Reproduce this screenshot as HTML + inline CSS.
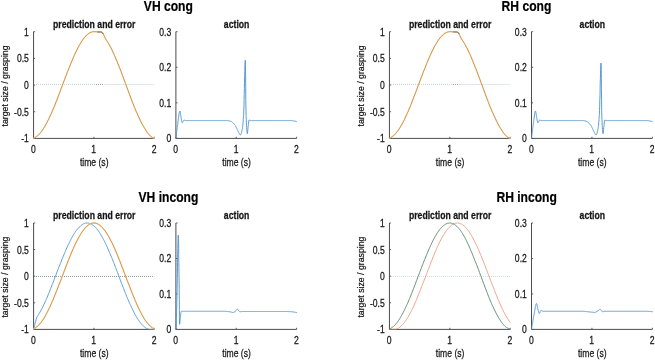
<!DOCTYPE html>
<html><head><meta charset="utf-8"><title>figure</title>
<style>
html,body{margin:0;padding:0;background:#fff;}
body{width:655px;height:360px;overflow:hidden;}
svg{display:block;font-family:"Liberation Sans",Arial,Helvetica,sans-serif;}
</style></head><body>
<svg width="655" height="360" viewBox="0 0 655 360">
<rect width="655" height="360" fill="#fff"/>
<path d="M33.55,31.70 V138.40 H154.25" fill="none" stroke="#4d4d4d" stroke-width="1"/>
<path d="M33.55,138.40 v-1.6" stroke="#4d4d4d" stroke-width="0.9"/>
<text transform="translate(33.35,152.60) scale(0.835,1)" text-anchor="middle" font-size="10.3" font-weight="normal" fill="#161616" stroke="#161616" stroke-width="0.25">0</text>
<path d="M93.90,138.40 v-1.6" stroke="#4d4d4d" stroke-width="0.9"/>
<text transform="translate(93.70,152.60) scale(0.835,1)" text-anchor="middle" font-size="10.3" font-weight="normal" fill="#161616" stroke="#161616" stroke-width="0.25">1</text>
<path d="M154.25,138.40 v-1.6" stroke="#4d4d4d" stroke-width="0.9"/>
<text transform="translate(154.05,152.60) scale(0.835,1)" text-anchor="middle" font-size="10.3" font-weight="normal" fill="#161616" stroke="#161616" stroke-width="0.25">2</text>
<path d="M33.55,138.40 h1.6" stroke="#4d4d4d" stroke-width="0.9"/>
<text transform="translate(28.85,142.35) scale(0.835,1)" text-anchor="end" font-size="10.3" font-weight="normal" fill="#161616" stroke="#161616" stroke-width="0.25">-1</text>
<path d="M33.55,111.73 h1.6" stroke="#4d4d4d" stroke-width="0.9"/>
<text transform="translate(28.85,115.68) scale(0.835,1)" text-anchor="end" font-size="10.3" font-weight="normal" fill="#161616" stroke="#161616" stroke-width="0.25">-0.5</text>
<path d="M33.55,85.05 h1.6" stroke="#4d4d4d" stroke-width="0.9"/>
<text transform="translate(28.85,89.00) scale(0.835,1)" text-anchor="end" font-size="10.3" font-weight="normal" fill="#161616" stroke="#161616" stroke-width="0.25">0</text>
<path d="M33.55,58.38 h1.6" stroke="#4d4d4d" stroke-width="0.9"/>
<text transform="translate(28.85,62.33) scale(0.835,1)" text-anchor="end" font-size="10.3" font-weight="normal" fill="#161616" stroke="#161616" stroke-width="0.25">0.5</text>
<path d="M33.55,31.70 h1.6" stroke="#4d4d4d" stroke-width="0.9"/>
<text transform="translate(28.85,35.65) scale(0.835,1)" text-anchor="end" font-size="10.3" font-weight="normal" fill="#161616" stroke="#161616" stroke-width="0.25">1</text>
<text transform="translate(94.20,166.20) scale(0.835,1)" text-anchor="middle" font-size="10.3" font-weight="normal" fill="#161616" stroke="#161616" stroke-width="0.25">time (s)</text>
<path d="M175.90,31.70 V138.40 H296.60" fill="none" stroke="#4d4d4d" stroke-width="1"/>
<path d="M175.90,138.40 v-1.6" stroke="#4d4d4d" stroke-width="0.9"/>
<text transform="translate(175.70,152.60) scale(0.835,1)" text-anchor="middle" font-size="10.3" font-weight="normal" fill="#161616" stroke="#161616" stroke-width="0.25">0</text>
<path d="M236.25,138.40 v-1.6" stroke="#4d4d4d" stroke-width="0.9"/>
<text transform="translate(236.05,152.60) scale(0.835,1)" text-anchor="middle" font-size="10.3" font-weight="normal" fill="#161616" stroke="#161616" stroke-width="0.25">1</text>
<path d="M296.60,138.40 v-1.6" stroke="#4d4d4d" stroke-width="0.9"/>
<text transform="translate(296.40,152.60) scale(0.835,1)" text-anchor="middle" font-size="10.3" font-weight="normal" fill="#161616" stroke="#161616" stroke-width="0.25">2</text>
<path d="M175.90,138.40 h1.6" stroke="#4d4d4d" stroke-width="0.9"/>
<text transform="translate(171.20,142.35) scale(0.835,1)" text-anchor="end" font-size="10.3" font-weight="normal" fill="#161616" stroke="#161616" stroke-width="0.25">0</text>
<path d="M175.90,102.83 h1.6" stroke="#4d4d4d" stroke-width="0.9"/>
<text transform="translate(171.20,106.78) scale(0.835,1)" text-anchor="end" font-size="10.3" font-weight="normal" fill="#161616" stroke="#161616" stroke-width="0.25">0.1</text>
<path d="M175.90,67.27 h1.6" stroke="#4d4d4d" stroke-width="0.9"/>
<text transform="translate(171.20,71.22) scale(0.835,1)" text-anchor="end" font-size="10.3" font-weight="normal" fill="#161616" stroke="#161616" stroke-width="0.25">0.2</text>
<path d="M175.90,31.70 h1.6" stroke="#4d4d4d" stroke-width="0.9"/>
<text transform="translate(171.20,35.65) scale(0.835,1)" text-anchor="end" font-size="10.3" font-weight="normal" fill="#161616" stroke="#161616" stroke-width="0.25">0.3</text>
<text transform="translate(236.55,166.20) scale(0.835,1)" text-anchor="middle" font-size="10.3" font-weight="normal" fill="#161616" stroke="#161616" stroke-width="0.25">time (s)</text>
<path d="M36,84.5 H96" stroke="#bcd8df" stroke-width="1" stroke-dasharray="1 1"/>
<path d="M96,84.5 H104" stroke="#8fa3aa" stroke-width="1" stroke-dasharray="1 1"/>
<path d="M104,84.5 H154.25" stroke="#dcebed" stroke-width="1"/>
<path d="M33.5,138.0 L34.1,137.8 L34.6,137.6 L35.1,137.4 L35.6,137.1 L36.1,136.8 L36.6,136.4 L37.1,136.1 L37.6,135.7 L38.1,135.2 L38.6,134.7 L39.1,134.2 L39.6,133.7 L40.1,133.1 L40.6,132.5 L41.1,131.9 L41.6,131.3 L42.1,130.6 L42.6,129.9 L43.1,129.1 L43.6,128.3 L44.1,127.5 L44.6,126.7 L45.1,125.9 L45.6,125.0 L46.1,124.1 L46.6,123.2 L47.1,122.2 L47.6,121.2 L48.1,120.2 L48.6,119.2 L49.1,118.2 L49.6,117.1 L50.1,116.0 L50.6,114.9 L51.2,113.8 L51.7,112.6 L52.2,111.5 L52.7,110.3 L53.2,109.1 L53.7,107.9 L54.2,106.7 L54.7,105.5 L55.2,104.2 L55.7,103.0 L56.2,101.7 L56.7,100.4 L57.2,99.1 L57.7,97.8 L58.2,96.5 L58.7,95.2 L59.2,93.9 L59.7,92.5 L60.2,91.2 L60.7,89.9 L61.2,88.5 L61.7,87.2 L62.2,85.9 L62.7,84.5 L63.2,83.2 L63.7,81.8 L64.2,80.5 L64.7,79.2 L65.2,77.8 L65.7,76.5 L66.2,75.2 L66.7,73.9 L67.2,72.5 L67.7,71.2 L68.3,69.9 L68.8,68.7 L69.3,67.4 L69.8,66.1 L70.3,64.9 L70.8,63.6 L71.3,62.4 L71.8,61.2 L72.3,60.0 L72.8,58.8 L73.3,57.7 L73.8,56.5 L74.3,55.4 L74.8,54.3 L75.3,53.2 L75.8,52.1 L76.3,51.1 L76.8,50.1 L77.3,49.1 L77.8,48.1 L78.3,47.1 L78.8,46.2 L79.3,45.3 L79.8,44.4 L80.3,43.6 L80.8,42.7 L81.3,41.9 L81.8,41.1 L82.3,40.4 L82.8,39.7 L83.3,39.0 L83.8,38.3 L84.3,37.7 L84.8,37.1 L85.4,36.5 L85.9,36.0 L86.4,35.5 L86.9,35.0 L87.4,34.5 L87.9,34.1 L88.4,33.7 L88.9,33.4 L89.4,33.1 L89.9,32.8 L90.4,32.5 L90.9,32.3 L91.4,32.1 L91.9,32.0 L92.4,31.9 L92.9,31.8 L93.4,31.7 L93.9,31.7 L94.4,31.7 L94.9,31.7 L95.4,31.7 L95.9,31.8 L96.4,31.8 L96.9,31.8 L97.4,31.8 L97.9,31.8 L98.4,31.8 L98.9,31.9 L99.4,31.9 L99.9,31.9 L100.4,31.9 L100.9,31.9 L101.4,32.1 L101.9,32.3 L102.4,32.7 L103.0,33.6 L103.5,34.5 L104.0,35.5 L104.5,36.6 L105.0,37.7 L105.5,38.8 L106.0,39.5 L106.5,40.2 L107.0,41.0 L107.5,41.7 L108.0,42.6 L108.5,43.4 L109.0,44.3 L109.5,45.2 L110.0,46.1 L110.5,47.0 L111.0,48.0 L111.5,49.0 L112.0,50.0 L112.5,51.1 L113.0,52.2 L113.5,53.2 L114.0,54.3 L114.5,55.5 L115.0,56.6 L115.5,57.8 L116.0,59.0 L116.5,60.2 L117.0,61.4 L117.5,62.6 L118.0,63.9 L118.5,65.1 L119.0,66.4 L119.5,67.7 L120.1,69.0 L120.6,70.3 L121.1,71.6 L121.6,73.0 L122.1,74.3 L122.6,75.6 L123.1,77.0 L123.6,78.3 L124.1,79.7 L124.6,81.1 L125.1,82.4 L125.6,83.8 L126.1,85.1 L126.6,86.5 L127.1,87.9 L127.6,89.2 L128.1,90.6 L128.6,92.0 L129.1,93.3 L129.6,94.7 L130.1,96.0 L130.6,97.3 L131.1,98.7 L131.6,100.0 L132.1,101.3 L132.6,102.6 L133.1,103.9 L133.6,105.1 L134.1,106.4 L134.6,107.6 L135.1,108.8 L135.6,110.1 L136.1,111.3 L136.6,112.4 L137.2,113.6 L137.7,114.7 L138.2,115.9 L138.7,117.0 L139.2,118.0 L139.7,119.1 L140.2,120.1 L140.7,121.2 L141.2,122.1 L141.7,123.1 L142.2,124.1 L142.7,125.0 L143.2,125.9 L143.7,126.7 L144.2,127.6 L144.7,128.4 L145.2,129.2 L145.7,130.0 L146.2,130.8 L146.7,131.6 L147.2,132.3 L147.7,133.0 L148.2,133.7 L148.7,134.3 L149.2,134.9 L149.7,135.4 L150.2,135.9 L150.7,136.3 L151.2,136.7 L151.7,137.1 L152.2,137.4 L152.7,137.7 L153.2,137.9 L153.7,138.1 L154.2,138.2" fill="none" stroke="#f7dca6" stroke-width="1.25" stroke-linejoin="round" stroke-linecap="round" />
<path d="M33.5,138.0 L34.1,137.8 L34.6,137.6 L35.1,137.4 L35.6,137.1 L36.1,136.8 L36.6,136.4 L37.1,136.1 L37.6,135.7 L38.1,135.2 L38.6,134.7 L39.1,134.2 L39.6,133.7 L40.1,133.1 L40.6,132.5 L41.1,131.9 L41.6,131.3 L42.1,130.6 L42.6,129.9 L43.1,129.1 L43.6,128.3 L44.1,127.5 L44.6,126.7 L45.1,125.9 L45.6,125.0 L46.1,124.1 L46.6,123.2 L47.1,122.2 L47.6,121.2 L48.1,120.2 L48.6,119.2 L49.1,118.2 L49.6,117.1 L50.1,116.0 L50.6,114.9 L51.2,113.8 L51.7,112.6 L52.2,111.5 L52.7,110.3 L53.2,109.1 L53.7,107.9 L54.2,106.7 L54.7,105.5 L55.2,104.2 L55.7,103.0 L56.2,101.7 L56.7,100.4 L57.2,99.1 L57.7,97.8 L58.2,96.5 L58.7,95.2 L59.2,93.9 L59.7,92.5 L60.2,91.2 L60.7,89.9 L61.2,88.5 L61.7,87.2 L62.2,85.9 L62.7,84.5 L63.2,83.2 L63.7,81.8 L64.2,80.5 L64.7,79.2 L65.2,77.8 L65.7,76.5 L66.2,75.2 L66.7,73.9 L67.2,72.5 L67.7,71.2 L68.3,69.9 L68.8,68.7 L69.3,67.4 L69.8,66.1 L70.3,64.9 L70.8,63.6 L71.3,62.4 L71.8,61.2 L72.3,60.0 L72.8,58.8 L73.3,57.7 L73.8,56.5 L74.3,55.4 L74.8,54.3 L75.3,53.2 L75.8,52.1 L76.3,51.1 L76.8,50.1 L77.3,49.1 L77.8,48.1 L78.3,47.1 L78.8,46.2 L79.3,45.3 L79.8,44.4 L80.3,43.6 L80.8,42.7 L81.3,41.9 L81.8,41.1 L82.3,40.4 L82.8,39.7 L83.3,39.0 L83.8,38.3 L84.3,37.7 L84.8,37.1 L85.4,36.5 L85.9,36.0 L86.4,35.5 L86.9,35.0 L87.4,34.5 L87.9,34.1 L88.4,33.7 L88.9,33.4 L89.4,33.1 L89.9,32.8 L90.4,32.5 L90.9,32.3 L91.4,32.1 L91.9,32.0 L92.4,31.9 L92.9,31.8 L93.4,31.7 L93.9,31.7 L94.4,31.7 L94.9,31.7 L95.4,31.7 L95.9,31.8 L96.4,31.8 L96.9,31.8 L97.4,31.8 L97.9,31.8 L98.4,31.8 L98.9,31.9 L99.4,31.9 L99.9,31.9 L100.4,31.9 L100.9,31.9 L101.4,32.1 L101.9,32.3 L102.4,32.7 L103.0,33.6 L103.5,34.5 L104.0,35.5 L104.5,36.6 L105.0,37.7 L105.5,38.8 L106.0,39.5 L106.5,40.2 L107.0,41.0 L107.5,41.7 L108.0,42.6 L108.5,43.4 L109.0,44.3 L109.5,45.2 L110.0,46.1 L110.5,47.0 L111.0,48.0 L111.5,49.0 L112.0,50.0 L112.5,51.1 L113.0,52.2 L113.5,53.2 L114.0,54.3 L114.5,55.5 L115.0,56.6 L115.5,57.8 L116.0,59.0 L116.5,60.2 L117.0,61.4 L117.5,62.6 L118.0,63.9 L118.5,65.1 L119.0,66.4 L119.5,67.7 L120.1,69.0 L120.6,70.3 L121.1,71.6 L121.6,73.0 L122.1,74.3 L122.6,75.6 L123.1,77.0 L123.6,78.3 L124.1,79.7 L124.6,81.1 L125.1,82.4 L125.6,83.8 L126.1,85.1 L126.6,86.5 L127.1,87.9 L127.6,89.2 L128.1,90.6 L128.6,92.0 L129.1,93.3 L129.6,94.7 L130.1,96.0 L130.6,97.3 L131.1,98.7 L131.6,100.0 L132.1,101.3 L132.6,102.6 L133.1,103.9 L133.6,105.1 L134.1,106.4 L134.6,107.6 L135.1,108.8 L135.6,110.1 L136.1,111.3 L136.6,112.4 L137.2,113.6 L137.7,114.7 L138.2,115.9 L138.7,117.0 L139.2,118.0 L139.7,119.1 L140.2,120.1 L140.7,121.2 L141.2,122.1 L141.7,123.1 L142.2,124.1 L142.7,125.0 L143.2,125.9 L143.7,126.7 L144.2,127.6 L144.7,128.4 L145.2,129.2 L145.7,130.0 L146.2,130.8 L146.7,131.6 L147.2,132.3 L147.7,133.0 L148.2,133.7 L148.7,134.3 L149.2,134.9 L149.7,135.4 L150.2,135.9 L150.7,136.3 L151.2,136.7 L151.7,137.1 L152.2,137.4 L152.7,137.7 L153.2,137.9 L153.7,138.1 L154.2,138.2" fill="none" stroke="#c47a33" stroke-width="0.75" stroke-linejoin="round" stroke-linecap="round" />
<path d="M97.8,32.0 L98.3,32.0 L98.8,32.0 L99.2,32.0 L99.7,32.0 L100.2,32.0 L100.6,32.1 L101.1,32.1 L101.6,32.3 L102.0,32.5 L102.5,32.9 L103.0,33.7" fill="none" stroke="#6a6a60" stroke-width="0.95" stroke-linejoin="round" stroke-linecap="round" />
<path d="M175.9,138.4 L176.0,137.3 L176.2,136.1 L176.3,135.0 L176.4,133.9 L176.6,132.8 L176.7,131.7 L176.8,130.6 L177.0,129.6 L177.1,128.6 L177.2,127.6 L177.4,126.6 L177.5,125.6 L177.6,124.6 L177.7,124.2 L177.8,123.7 L177.9,122.7 L178.0,121.6 L178.2,120.5 L178.3,119.4 L178.5,118.3 L178.6,117.2 L178.7,116.1 L178.9,115.1 L179.0,114.2 L179.1,113.3 L179.3,112.6 L179.4,111.9 L179.5,111.5 L179.7,111.2 L179.8,111.0 L179.9,111.1 L180.1,111.4 L180.2,112.0 L180.3,112.7 L180.5,113.5 L180.6,114.4 L180.7,115.3 L180.9,116.2 L181.0,116.9 L181.0,117.1 L181.1,117.6 L181.3,118.4 L181.4,119.2 L181.5,120.1 L181.7,120.9 L181.8,121.6 L181.9,122.2 L182.1,122.6 L182.2,122.7 L182.3,122.7 L182.5,122.6 L182.6,122.5 L182.7,122.2 L182.9,122.0 L183.0,121.7 L183.2,121.4 L183.3,121.1 L183.4,120.8 L183.6,120.6 L183.7,120.4 L183.8,120.2 L184.0,120.1 L184.1,120.1 L184.4,120.1 L184.5,120.1 L184.6,120.2 L184.8,120.2 L184.9,120.3 L185.0,120.3 L185.2,120.4 L185.3,120.4 L185.4,120.5 L185.6,120.5 L185.7,120.6 L185.8,120.6 L186.0,120.6 L186.2,120.6 L186.4,120.6 L186.6,120.6 L186.9,120.6 L187.2,120.6 L187.4,120.6 L187.7,120.6 L188.0,120.6 L188.3,120.6 L188.5,120.6 L188.8,120.6 L189.1,120.6 L189.3,120.6 L189.6,120.6 L189.9,120.6 L190.1,120.6 L190.4,120.6 L190.7,120.6 L190.9,120.6 L191.2,120.6 L191.5,120.6 L191.7,120.6 L192.0,120.6 L192.3,120.6 L192.5,120.6 L192.8,120.6 L193.1,120.6 L193.4,120.6 L193.6,120.6 L193.9,120.6 L194.2,120.6 L194.4,120.6 L194.7,120.6 L195.0,120.6 L195.2,120.6 L195.5,120.6 L195.8,120.6 L196.0,120.6 L196.3,120.6 L196.6,120.6 L196.8,120.6 L197.1,120.6 L197.4,120.6 L197.7,120.6 L197.9,120.6 L198.2,120.6 L198.5,120.6 L198.7,120.6 L199.0,120.6 L199.3,120.6 L199.5,120.6 L199.8,120.6 L200.1,120.6 L200.3,120.6 L200.6,120.6 L200.9,120.6 L201.1,120.6 L201.4,120.6 L201.7,120.6 L201.9,120.6 L202.2,120.6 L202.5,120.6 L202.8,120.6 L203.0,120.6 L203.3,120.6 L203.6,120.6 L203.8,120.6 L204.1,120.6 L204.4,120.6 L204.6,120.6 L204.9,120.6 L205.2,120.6 L205.4,120.6 L205.7,120.6 L206.0,120.6 L206.2,120.6 L206.5,120.6 L206.8,120.6 L207.0,120.6 L207.3,120.6 L207.6,120.6 L207.9,120.6 L208.1,120.6 L208.4,120.6 L208.7,120.6 L208.9,120.6 L209.2,120.6 L209.5,120.6 L209.7,120.6 L210.0,120.6 L210.3,120.6 L210.5,120.6 L210.8,120.6 L211.1,120.6 L211.3,120.6 L211.6,120.6 L211.9,120.6 L212.2,120.6 L212.4,120.6 L212.7,120.6 L213.0,120.6 L213.2,120.6 L213.5,120.6 L213.8,120.6 L214.0,120.6 L214.3,120.6 L214.6,120.6 L214.8,120.6 L215.1,120.6 L215.4,120.6 L215.6,120.6 L215.9,120.6 L216.2,120.6 L216.4,120.6 L216.7,120.6 L217.0,120.6 L217.3,120.6 L217.5,120.6 L217.8,120.6 L218.1,120.6 L218.3,120.6 L218.6,120.6 L218.9,120.6 L219.1,120.6 L219.4,120.6 L219.7,120.6 L219.9,120.6 L220.2,120.6 L220.5,120.6 L220.7,120.6 L221.0,120.6 L221.3,120.6 L221.5,120.6 L221.8,120.6 L222.1,120.6 L222.4,120.6 L222.6,120.6 L222.9,120.6 L223.2,120.6 L223.4,120.6 L223.7,120.6 L224.0,120.6 L224.2,120.6 L224.5,120.6 L224.8,120.6 L225.0,120.6 L225.3,120.6 L225.6,120.6 L225.8,120.6 L226.1,120.6 L226.4,120.6 L226.7,120.6 L226.9,120.6 L227.2,120.6 L227.5,120.6 L227.7,120.6 L228.0,120.7 L228.1,120.7 L228.3,120.7 L228.4,120.7 L228.5,120.7 L228.7,120.8 L228.8,120.8 L228.9,120.8 L229.1,120.9 L229.2,120.9 L229.3,120.9 L229.5,121.0 L229.6,121.0 L229.7,121.0 L229.9,121.1 L230.0,121.1 L230.1,121.1 L230.3,121.2 L230.4,121.2 L230.5,121.3 L230.7,121.3 L230.8,121.4 L230.9,121.4 L231.1,121.5 L231.2,121.6 L231.3,121.7 L231.5,121.7 L231.6,121.8 L231.8,121.9 L231.9,122.0 L232.0,122.1 L232.2,122.2 L232.3,122.3 L232.4,122.4 L232.6,122.6 L232.7,122.7 L232.8,122.8 L233.0,122.9 L233.1,123.1 L233.2,123.2 L233.4,123.3 L233.5,123.5 L233.6,123.6 L233.8,123.8 L233.9,123.9 L234.0,124.1 L234.2,124.2 L234.3,124.4 L234.4,124.5 L234.6,124.7 L234.7,124.8 L234.8,125.0 L235.0,125.2 L235.0,125.2 L235.2,125.5 L235.4,125.7 L235.5,125.9 L235.6,126.2 L235.8,126.4 L235.9,126.7 L236.0,127.0 L236.2,127.2 L236.3,127.5 L236.5,127.8 L236.6,128.1 L236.7,128.4 L236.9,128.8 L237.0,129.1 L237.1,129.4 L237.3,129.7 L237.4,130.0 L237.5,130.2 L237.7,130.5 L237.8,130.8 L237.9,131.0 L238.1,131.3 L238.2,131.5 L238.3,131.8 L238.5,132.1 L238.6,132.3 L238.7,132.6 L238.9,132.9 L239.0,133.2 L239.1,133.5 L239.3,133.7 L239.4,134.0 L239.5,134.2 L239.7,134.4 L239.8,134.6 L239.9,134.7 L240.1,134.9 L240.2,134.9 L240.3,135.0 L240.6,134.9 L240.7,134.7 L240.9,134.5 L241.0,134.1 L241.2,133.8 L241.3,133.3 L241.4,132.9 L241.6,132.4 L241.7,131.8 L241.8,131.3 L242.0,130.7 L242.1,130.1 L242.2,129.4 L242.4,128.5 L242.5,127.6 L242.6,126.5 L242.8,125.3 L242.9,124.1 L243.0,122.7 L243.2,121.2 L243.3,119.5 L243.4,117.8 L243.6,115.9 L243.6,115.3 L243.7,113.7 L243.8,110.2 L244.0,105.7 L244.1,100.4 L244.2,94.6 L244.4,88.5 L244.5,82.4 L244.6,76.6 L244.8,71.3 L244.9,66.7 L245.0,63.1 L245.2,60.9 L245.3,60.2 L245.4,64.4 L245.6,74.1 L245.7,86.7 L245.8,99.7 L246.0,110.3 L246.1,115.3 L246.1,116.2 L246.3,119.8 L246.4,122.8 L246.5,125.4 L246.7,127.5 L246.8,129.2 L246.8,129.5 L246.9,130.9 L247.1,132.4 L247.2,133.5 L247.3,133.8 L247.5,133.2 L247.6,132.1 L247.7,130.7 L247.9,129.2 L248.0,127.9 L248.0,127.7 L248.1,126.8 L248.3,125.6 L248.4,124.3 L248.5,123.1 L248.7,121.9 L248.8,121.0 L248.9,120.3 L249.1,120.0 L249.3,120.0 L249.5,120.1 L249.6,120.1 L249.7,120.2 L249.9,120.3 L250.0,120.4 L250.1,120.4 L250.3,120.5 L250.4,120.6 L250.5,120.6 L250.7,120.6 L251.0,120.6 L251.2,120.6 L251.5,120.6 L251.8,120.6 L252.0,120.6 L252.3,120.6 L252.6,120.6 L252.8,120.6 L253.1,120.6 L253.4,120.6 L253.6,120.6 L253.9,120.6 L254.2,120.6 L254.4,120.6 L254.7,120.6 L255.0,120.6 L255.2,120.6 L255.5,120.6 L255.8,120.6 L256.1,120.6 L256.3,120.6 L256.6,120.6 L256.9,120.6 L257.1,120.6 L257.4,120.6 L257.7,120.6 L257.9,120.6 L258.2,120.6 L258.5,120.6 L258.7,120.6 L259.0,120.6 L259.3,120.6 L259.5,120.6 L259.8,120.6 L260.1,120.6 L260.3,120.6 L260.6,120.6 L260.9,120.6 L261.2,120.6 L261.4,120.6 L261.7,120.6 L262.0,120.6 L262.2,120.6 L262.5,120.6 L262.8,120.6 L263.0,120.6 L263.3,120.6 L263.6,120.6 L263.8,120.6 L264.1,120.6 L264.4,120.6 L264.6,120.6 L264.9,120.6 L265.2,120.6 L265.5,120.6 L265.7,120.6 L266.0,120.6 L266.3,120.6 L266.5,120.6 L266.8,120.6 L267.1,120.6 L267.3,120.6 L267.6,120.6 L267.9,120.6 L268.1,120.6 L268.4,120.6 L268.7,120.6 L268.9,120.6 L269.2,120.6 L269.5,120.6 L269.7,120.6 L270.0,120.6 L270.3,120.6 L270.6,120.6 L270.8,120.6 L271.1,120.6 L271.4,120.6 L271.6,120.6 L271.9,120.6 L272.2,120.6 L272.4,120.6 L272.7,120.6 L273.0,120.6 L273.2,120.6 L273.5,120.6 L273.8,120.6 L274.0,120.6 L274.3,120.6 L274.6,120.6 L274.8,120.6 L275.1,120.6 L275.4,120.6 L275.7,120.6 L275.9,120.6 L276.2,120.6 L276.5,120.6 L276.7,120.6 L277.0,120.6 L277.3,120.6 L277.5,120.6 L277.8,120.6 L278.1,120.6 L278.3,120.6 L278.6,120.6 L278.9,120.6 L279.1,120.6 L279.4,120.6 L279.7,120.6 L280.0,120.6 L280.2,120.6 L280.5,120.6 L280.8,120.6 L281.0,120.6 L281.3,120.6 L281.6,120.6 L281.8,120.6 L282.1,120.6 L282.4,120.6 L282.6,120.6 L282.9,120.6 L283.2,120.6 L283.4,120.6 L283.7,120.6 L284.0,120.6 L284.2,120.6 L284.5,120.6 L284.8,120.6 L285.1,120.6 L285.3,120.6 L285.6,120.6 L285.9,120.6 L286.1,120.6 L286.4,120.6 L286.7,120.6 L286.9,120.6 L287.2,120.6 L287.5,120.6 L287.7,120.6 L288.0,120.6 L288.3,120.6 L288.5,120.6 L288.8,120.6 L289.1,120.6 L289.3,120.6 L289.6,120.6 L289.9,120.6 L290.2,120.6 L290.4,120.6 L290.7,120.6 L291.0,120.6 L291.2,120.6 L291.5,120.6 L291.8,120.7 L292.0,120.7 L292.3,120.7 L292.6,120.7 L292.7,120.8 L292.8,120.8 L293.0,120.8 L293.1,120.8 L293.2,120.8 L293.4,120.9 L293.5,120.9 L293.6,120.9 L293.8,120.9 L293.9,120.9 L294.0,121.0 L294.2,121.0 L294.3,121.0 L294.5,121.0 L294.6,121.0 L294.7,121.1 L294.9,121.1 L295.0,121.1 L295.1,121.2 L295.3,121.2 L295.4,121.3 L295.5,121.3 L295.7,121.3 L295.8,121.4 L295.9,121.4 L296.1,121.5 L296.2,121.5 L296.3,121.6 L296.5,121.6 L296.6,121.7" fill="none" stroke="#4f96cf" stroke-width="0.95" stroke-linejoin="round" stroke-linecap="round" />
<text transform="translate(94.20,28.00) scale(0.868,1)" text-anchor="middle" font-size="10" font-weight="bold" fill="#161616" stroke="#161616" stroke-width="0.25">prediction and error</text>
<text transform="translate(236.65,28.00) scale(0.868,1)" text-anchor="middle" font-size="10" font-weight="bold" fill="#161616" stroke="#161616" stroke-width="0.25">action</text>
<text transform="translate(8.05,85.95) rotate(-90) scale(0.848,0.9)" text-anchor="middle" font-size="10.3" font-weight="normal" fill="#161616" stroke="#161616" stroke-width="0.25">target size / grasping</text>
<text transform="translate(168.35,11.10) scale(0.865,1)" text-anchor="middle" font-size="14" font-weight="bold" fill="#000" stroke="#000" stroke-width="0.2">VH cong</text>
<path d="M389.45,31.70 V138.40 H510.15" fill="none" stroke="#4d4d4d" stroke-width="1"/>
<path d="M389.45,138.40 v-1.6" stroke="#4d4d4d" stroke-width="0.9"/>
<text transform="translate(389.25,152.60) scale(0.835,1)" text-anchor="middle" font-size="10.3" font-weight="normal" fill="#161616" stroke="#161616" stroke-width="0.25">0</text>
<path d="M449.80,138.40 v-1.6" stroke="#4d4d4d" stroke-width="0.9"/>
<text transform="translate(449.60,152.60) scale(0.835,1)" text-anchor="middle" font-size="10.3" font-weight="normal" fill="#161616" stroke="#161616" stroke-width="0.25">1</text>
<path d="M510.15,138.40 v-1.6" stroke="#4d4d4d" stroke-width="0.9"/>
<text transform="translate(509.95,152.60) scale(0.835,1)" text-anchor="middle" font-size="10.3" font-weight="normal" fill="#161616" stroke="#161616" stroke-width="0.25">2</text>
<path d="M389.45,138.40 h1.6" stroke="#4d4d4d" stroke-width="0.9"/>
<text transform="translate(384.75,142.35) scale(0.835,1)" text-anchor="end" font-size="10.3" font-weight="normal" fill="#161616" stroke="#161616" stroke-width="0.25">-1</text>
<path d="M389.45,111.73 h1.6" stroke="#4d4d4d" stroke-width="0.9"/>
<text transform="translate(384.75,115.68) scale(0.835,1)" text-anchor="end" font-size="10.3" font-weight="normal" fill="#161616" stroke="#161616" stroke-width="0.25">-0.5</text>
<path d="M389.45,85.05 h1.6" stroke="#4d4d4d" stroke-width="0.9"/>
<text transform="translate(384.75,89.00) scale(0.835,1)" text-anchor="end" font-size="10.3" font-weight="normal" fill="#161616" stroke="#161616" stroke-width="0.25">0</text>
<path d="M389.45,58.38 h1.6" stroke="#4d4d4d" stroke-width="0.9"/>
<text transform="translate(384.75,62.33) scale(0.835,1)" text-anchor="end" font-size="10.3" font-weight="normal" fill="#161616" stroke="#161616" stroke-width="0.25">0.5</text>
<path d="M389.45,31.70 h1.6" stroke="#4d4d4d" stroke-width="0.9"/>
<text transform="translate(384.75,35.65) scale(0.835,1)" text-anchor="end" font-size="10.3" font-weight="normal" fill="#161616" stroke="#161616" stroke-width="0.25">1</text>
<text transform="translate(450.10,166.20) scale(0.835,1)" text-anchor="middle" font-size="10.3" font-weight="normal" fill="#161616" stroke="#161616" stroke-width="0.25">time (s)</text>
<path d="M531.50,31.70 V138.40 H652.40" fill="none" stroke="#4d4d4d" stroke-width="1"/>
<path d="M531.50,138.40 v-1.6" stroke="#4d4d4d" stroke-width="0.9"/>
<text transform="translate(531.30,152.60) scale(0.835,1)" text-anchor="middle" font-size="10.3" font-weight="normal" fill="#161616" stroke="#161616" stroke-width="0.25">0</text>
<path d="M591.95,138.40 v-1.6" stroke="#4d4d4d" stroke-width="0.9"/>
<text transform="translate(591.75,152.60) scale(0.835,1)" text-anchor="middle" font-size="10.3" font-weight="normal" fill="#161616" stroke="#161616" stroke-width="0.25">1</text>
<path d="M652.40,138.40 v-1.6" stroke="#4d4d4d" stroke-width="0.9"/>
<text transform="translate(652.20,152.60) scale(0.835,1)" text-anchor="middle" font-size="10.3" font-weight="normal" fill="#161616" stroke="#161616" stroke-width="0.25">2</text>
<path d="M531.50,138.40 h1.6" stroke="#4d4d4d" stroke-width="0.9"/>
<text transform="translate(526.80,142.35) scale(0.835,1)" text-anchor="end" font-size="10.3" font-weight="normal" fill="#161616" stroke="#161616" stroke-width="0.25">0</text>
<path d="M531.50,102.83 h1.6" stroke="#4d4d4d" stroke-width="0.9"/>
<text transform="translate(526.80,106.78) scale(0.835,1)" text-anchor="end" font-size="10.3" font-weight="normal" fill="#161616" stroke="#161616" stroke-width="0.25">0.1</text>
<path d="M531.50,67.27 h1.6" stroke="#4d4d4d" stroke-width="0.9"/>
<text transform="translate(526.80,71.22) scale(0.835,1)" text-anchor="end" font-size="10.3" font-weight="normal" fill="#161616" stroke="#161616" stroke-width="0.25">0.2</text>
<path d="M531.50,31.70 h1.6" stroke="#4d4d4d" stroke-width="0.9"/>
<text transform="translate(526.80,35.65) scale(0.835,1)" text-anchor="end" font-size="10.3" font-weight="normal" fill="#161616" stroke="#161616" stroke-width="0.25">0.3</text>
<text transform="translate(592.25,166.20) scale(0.835,1)" text-anchor="middle" font-size="10.3" font-weight="normal" fill="#161616" stroke="#161616" stroke-width="0.25">time (s)</text>
<path d="M391,84.5 H453" stroke="#bcd8df" stroke-width="1" stroke-dasharray="1 1"/>
<path d="M453,84.5 H459" stroke="#8fa3aa" stroke-width="1" stroke-dasharray="1 1"/>
<path d="M459,84.5 H510.15" stroke="#dcebed" stroke-width="1"/>
<path d="M389.4,138.0 L390.0,137.8 L390.5,137.6 L391.0,137.4 L391.5,137.1 L392.0,136.8 L392.5,136.4 L393.0,136.1 L393.5,135.7 L394.0,135.2 L394.5,134.7 L395.0,134.2 L395.5,133.7 L396.0,133.1 L396.5,132.5 L397.0,131.9 L397.5,131.3 L398.0,130.6 L398.5,129.9 L399.0,129.1 L399.5,128.3 L400.0,127.5 L400.5,126.7 L401.0,125.9 L401.5,125.0 L402.0,124.1 L402.5,123.2 L403.0,122.2 L403.5,121.2 L404.0,120.2 L404.5,119.2 L405.0,118.2 L405.5,117.1 L406.0,116.0 L406.5,114.9 L407.1,113.8 L407.6,112.6 L408.1,111.5 L408.6,110.3 L409.1,109.1 L409.6,107.9 L410.1,106.7 L410.6,105.5 L411.1,104.2 L411.6,103.0 L412.1,101.7 L412.6,100.4 L413.1,99.1 L413.6,97.8 L414.1,96.5 L414.6,95.2 L415.1,93.9 L415.6,92.5 L416.1,91.2 L416.6,89.9 L417.1,88.5 L417.6,87.2 L418.1,85.9 L418.6,84.5 L419.1,83.2 L419.6,81.8 L420.1,80.5 L420.6,79.2 L421.1,77.8 L421.6,76.5 L422.1,75.2 L422.6,73.9 L423.1,72.5 L423.6,71.2 L424.2,69.9 L424.7,68.7 L425.2,67.4 L425.7,66.1 L426.2,64.9 L426.7,63.6 L427.2,62.4 L427.7,61.2 L428.2,60.0 L428.7,58.8 L429.2,57.7 L429.7,56.5 L430.2,55.4 L430.7,54.3 L431.2,53.2 L431.7,52.1 L432.2,51.1 L432.7,50.1 L433.2,49.1 L433.7,48.1 L434.2,47.1 L434.7,46.2 L435.2,45.3 L435.7,44.4 L436.2,43.6 L436.7,42.7 L437.2,41.9 L437.7,41.1 L438.2,40.4 L438.7,39.7 L439.2,39.0 L439.7,38.3 L440.2,37.7 L440.7,37.1 L441.3,36.5 L441.8,36.0 L442.3,35.5 L442.8,35.0 L443.3,34.5 L443.8,34.1 L444.3,33.7 L444.8,33.4 L445.3,33.1 L445.8,32.8 L446.3,32.5 L446.8,32.3 L447.3,32.1 L447.8,32.0 L448.3,31.9 L448.8,31.8 L449.3,31.7 L449.8,31.7 L450.3,31.7 L450.8,31.7 L451.3,31.7 L451.8,31.8 L452.3,31.8 L452.8,31.8 L453.3,31.8 L453.8,31.8 L454.3,31.8 L454.8,31.9 L455.3,31.9 L455.8,31.9 L456.3,31.9 L456.8,31.9 L457.3,32.1 L457.8,32.3 L458.3,32.7 L458.9,33.6 L459.4,34.5 L459.9,35.5 L460.4,36.6 L460.9,37.7 L461.4,38.8 L461.9,39.5 L462.4,40.2 L462.9,41.0 L463.4,41.7 L463.9,42.6 L464.4,43.4 L464.9,44.3 L465.4,45.2 L465.9,46.1 L466.4,47.0 L466.9,48.0 L467.4,49.0 L467.9,50.0 L468.4,51.1 L468.9,52.2 L469.4,53.2 L469.9,54.3 L470.4,55.5 L470.9,56.6 L471.4,57.8 L471.9,59.0 L472.4,60.2 L472.9,61.4 L473.4,62.6 L473.9,63.9 L474.4,65.1 L474.9,66.4 L475.4,67.7 L476.0,69.0 L476.5,70.3 L477.0,71.6 L477.5,73.0 L478.0,74.3 L478.5,75.6 L479.0,77.0 L479.5,78.3 L480.0,79.7 L480.5,81.1 L481.0,82.4 L481.5,83.8 L482.0,85.1 L482.5,86.5 L483.0,87.9 L483.5,89.2 L484.0,90.6 L484.5,92.0 L485.0,93.3 L485.5,94.7 L486.0,96.0 L486.5,97.3 L487.0,98.7 L487.5,100.0 L488.0,101.3 L488.5,102.6 L489.0,103.9 L489.5,105.1 L490.0,106.4 L490.5,107.6 L491.0,108.8 L491.5,110.1 L492.0,111.3 L492.5,112.4 L493.1,113.6 L493.6,114.7 L494.1,115.9 L494.6,117.0 L495.1,118.0 L495.6,119.1 L496.1,120.1 L496.6,121.2 L497.1,122.1 L497.6,123.1 L498.1,124.1 L498.6,125.0 L499.1,125.9 L499.6,126.7 L500.1,127.6 L500.6,128.4 L501.1,129.2 L501.6,130.0 L502.1,130.8 L502.6,131.6 L503.1,132.3 L503.6,133.0 L504.1,133.7 L504.6,134.3 L505.1,134.9 L505.6,135.4 L506.1,135.9 L506.6,136.3 L507.1,136.7 L507.6,137.1 L508.1,137.4 L508.6,137.7 L509.1,137.9 L509.6,138.1 L510.1,138.2" fill="none" stroke="#f7dca6" stroke-width="1.25" stroke-linejoin="round" stroke-linecap="round" />
<path d="M389.4,138.0 L390.0,137.8 L390.5,137.6 L391.0,137.4 L391.5,137.1 L392.0,136.8 L392.5,136.4 L393.0,136.1 L393.5,135.7 L394.0,135.2 L394.5,134.7 L395.0,134.2 L395.5,133.7 L396.0,133.1 L396.5,132.5 L397.0,131.9 L397.5,131.3 L398.0,130.6 L398.5,129.9 L399.0,129.1 L399.5,128.3 L400.0,127.5 L400.5,126.7 L401.0,125.9 L401.5,125.0 L402.0,124.1 L402.5,123.2 L403.0,122.2 L403.5,121.2 L404.0,120.2 L404.5,119.2 L405.0,118.2 L405.5,117.1 L406.0,116.0 L406.5,114.9 L407.1,113.8 L407.6,112.6 L408.1,111.5 L408.6,110.3 L409.1,109.1 L409.6,107.9 L410.1,106.7 L410.6,105.5 L411.1,104.2 L411.6,103.0 L412.1,101.7 L412.6,100.4 L413.1,99.1 L413.6,97.8 L414.1,96.5 L414.6,95.2 L415.1,93.9 L415.6,92.5 L416.1,91.2 L416.6,89.9 L417.1,88.5 L417.6,87.2 L418.1,85.9 L418.6,84.5 L419.1,83.2 L419.6,81.8 L420.1,80.5 L420.6,79.2 L421.1,77.8 L421.6,76.5 L422.1,75.2 L422.6,73.9 L423.1,72.5 L423.6,71.2 L424.2,69.9 L424.7,68.7 L425.2,67.4 L425.7,66.1 L426.2,64.9 L426.7,63.6 L427.2,62.4 L427.7,61.2 L428.2,60.0 L428.7,58.8 L429.2,57.7 L429.7,56.5 L430.2,55.4 L430.7,54.3 L431.2,53.2 L431.7,52.1 L432.2,51.1 L432.7,50.1 L433.2,49.1 L433.7,48.1 L434.2,47.1 L434.7,46.2 L435.2,45.3 L435.7,44.4 L436.2,43.6 L436.7,42.7 L437.2,41.9 L437.7,41.1 L438.2,40.4 L438.7,39.7 L439.2,39.0 L439.7,38.3 L440.2,37.7 L440.7,37.1 L441.3,36.5 L441.8,36.0 L442.3,35.5 L442.8,35.0 L443.3,34.5 L443.8,34.1 L444.3,33.7 L444.8,33.4 L445.3,33.1 L445.8,32.8 L446.3,32.5 L446.8,32.3 L447.3,32.1 L447.8,32.0 L448.3,31.9 L448.8,31.8 L449.3,31.7 L449.8,31.7 L450.3,31.7 L450.8,31.7 L451.3,31.7 L451.8,31.8 L452.3,31.8 L452.8,31.8 L453.3,31.8 L453.8,31.8 L454.3,31.8 L454.8,31.9 L455.3,31.9 L455.8,31.9 L456.3,31.9 L456.8,31.9 L457.3,32.1 L457.8,32.3 L458.3,32.7 L458.9,33.6 L459.4,34.5 L459.9,35.5 L460.4,36.6 L460.9,37.7 L461.4,38.8 L461.9,39.5 L462.4,40.2 L462.9,41.0 L463.4,41.7 L463.9,42.6 L464.4,43.4 L464.9,44.3 L465.4,45.2 L465.9,46.1 L466.4,47.0 L466.9,48.0 L467.4,49.0 L467.9,50.0 L468.4,51.1 L468.9,52.2 L469.4,53.2 L469.9,54.3 L470.4,55.5 L470.9,56.6 L471.4,57.8 L471.9,59.0 L472.4,60.2 L472.9,61.4 L473.4,62.6 L473.9,63.9 L474.4,65.1 L474.9,66.4 L475.4,67.7 L476.0,69.0 L476.5,70.3 L477.0,71.6 L477.5,73.0 L478.0,74.3 L478.5,75.6 L479.0,77.0 L479.5,78.3 L480.0,79.7 L480.5,81.1 L481.0,82.4 L481.5,83.8 L482.0,85.1 L482.5,86.5 L483.0,87.9 L483.5,89.2 L484.0,90.6 L484.5,92.0 L485.0,93.3 L485.5,94.7 L486.0,96.0 L486.5,97.3 L487.0,98.7 L487.5,100.0 L488.0,101.3 L488.5,102.6 L489.0,103.9 L489.5,105.1 L490.0,106.4 L490.5,107.6 L491.0,108.8 L491.5,110.1 L492.0,111.3 L492.5,112.4 L493.1,113.6 L493.6,114.7 L494.1,115.9 L494.6,117.0 L495.1,118.0 L495.6,119.1 L496.1,120.1 L496.6,121.2 L497.1,122.1 L497.6,123.1 L498.1,124.1 L498.6,125.0 L499.1,125.9 L499.6,126.7 L500.1,127.6 L500.6,128.4 L501.1,129.2 L501.6,130.0 L502.1,130.8 L502.6,131.6 L503.1,132.3 L503.6,133.0 L504.1,133.7 L504.6,134.3 L505.1,134.9 L505.6,135.4 L506.1,135.9 L506.6,136.3 L507.1,136.7 L507.6,137.1 L508.1,137.4 L508.6,137.7 L509.1,137.9 L509.6,138.1 L510.1,138.2" fill="none" stroke="#c47a33" stroke-width="0.75" stroke-linejoin="round" stroke-linecap="round" />
<path d="M453.7,32.0 L454.2,32.0 L454.7,32.0 L455.1,32.0 L455.6,32.0 L456.1,32.0 L456.5,32.1 L457.0,32.1 L457.5,32.3 L457.9,32.5 L458.4,32.9 L458.9,33.7" fill="none" stroke="#6a6a60" stroke-width="0.95" stroke-linejoin="round" stroke-linecap="round" />
<path d="M531.5,138.4 L531.6,137.3 L531.8,136.1 L531.9,135.0 L532.0,133.9 L532.2,132.8 L532.3,131.7 L532.4,130.6 L532.6,129.6 L532.7,128.6 L532.8,127.6 L533.0,126.6 L533.1,125.6 L533.2,124.6 L533.3,124.2 L533.4,123.7 L533.5,122.7 L533.7,121.6 L533.8,120.5 L533.9,119.4 L534.1,118.3 L534.2,117.2 L534.3,116.1 L534.5,115.1 L534.6,114.2 L534.7,113.3 L534.9,112.6 L535.0,111.9 L535.1,111.5 L535.3,111.2 L535.4,111.0 L535.5,111.1 L535.7,111.4 L535.8,112.0 L535.9,112.7 L536.1,113.5 L536.2,114.4 L536.3,115.3 L536.5,116.2 L536.6,116.9 L536.6,117.1 L536.7,117.6 L536.9,118.4 L537.0,119.2 L537.1,120.1 L537.3,120.9 L537.4,121.6 L537.6,122.2 L537.7,122.6 L537.8,122.7 L538.0,122.7 L538.1,122.6 L538.2,122.5 L538.4,122.2 L538.5,122.0 L538.6,121.7 L538.8,121.4 L538.9,121.1 L539.0,120.8 L539.2,120.6 L539.3,120.4 L539.4,120.2 L539.6,120.1 L539.7,120.1 L540.0,120.1 L540.1,120.1 L540.2,120.2 L540.4,120.2 L540.5,120.3 L540.6,120.3 L540.8,120.4 L540.9,120.4 L541.0,120.5 L541.2,120.5 L541.3,120.6 L541.5,120.6 L541.6,120.6 L541.8,120.6 L542.0,120.6 L542.3,120.6 L542.5,120.6 L542.8,120.6 L543.1,120.6 L543.3,120.6 L543.6,120.6 L543.9,120.6 L544.1,120.6 L544.4,120.6 L544.7,120.6 L544.9,120.6 L545.2,120.6 L545.5,120.6 L545.8,120.6 L546.0,120.6 L546.3,120.6 L546.6,120.6 L546.8,120.6 L547.1,120.6 L547.4,120.6 L547.6,120.6 L547.9,120.6 L548.2,120.6 L548.4,120.6 L548.7,120.6 L549.0,120.6 L549.3,120.6 L549.5,120.6 L549.8,120.6 L550.1,120.6 L550.3,120.6 L550.6,120.6 L550.9,120.6 L551.1,120.6 L551.4,120.6 L551.7,120.6 L551.9,120.6 L552.2,120.6 L552.5,120.6 L552.7,120.6 L553.0,120.6 L553.3,120.6 L553.6,120.6 L553.8,120.6 L554.1,120.6 L554.4,120.6 L554.6,120.6 L554.9,120.6 L555.2,120.6 L555.4,120.6 L555.7,120.6 L556.0,120.6 L556.2,120.6 L556.5,120.6 L556.8,120.6 L557.1,120.6 L557.3,120.6 L557.6,120.6 L557.9,120.6 L558.1,120.6 L558.4,120.6 L558.7,120.6 L558.9,120.6 L559.2,120.6 L559.5,120.6 L559.7,120.6 L560.0,120.6 L560.3,120.6 L560.5,120.6 L560.8,120.6 L561.1,120.6 L561.4,120.6 L561.6,120.6 L561.9,120.6 L562.2,120.6 L562.4,120.6 L562.7,120.6 L563.0,120.6 L563.2,120.6 L563.5,120.6 L563.8,120.6 L564.0,120.6 L564.3,120.6 L564.6,120.6 L564.9,120.6 L565.1,120.6 L565.4,120.6 L565.7,120.6 L565.9,120.6 L566.2,120.6 L566.5,120.6 L566.7,120.6 L567.0,120.6 L567.3,120.6 L567.5,120.6 L567.8,120.6 L568.1,120.6 L568.3,120.6 L568.6,120.6 L568.9,120.6 L569.2,120.6 L569.4,120.6 L569.7,120.6 L570.0,120.6 L570.2,120.6 L570.5,120.6 L570.8,120.6 L571.0,120.6 L571.3,120.6 L571.6,120.6 L571.8,120.6 L572.1,120.6 L572.4,120.6 L572.7,120.6 L572.9,120.6 L573.2,120.6 L573.5,120.6 L573.7,120.6 L574.0,120.6 L574.3,120.6 L574.5,120.6 L574.8,120.6 L575.1,120.6 L575.3,120.6 L575.6,120.6 L575.9,120.6 L576.1,120.6 L576.4,120.6 L576.7,120.6 L577.0,120.6 L577.2,120.6 L577.5,120.6 L577.8,120.6 L578.0,120.6 L578.3,120.6 L578.6,120.6 L578.8,120.6 L579.1,120.6 L579.4,120.6 L579.6,120.6 L579.9,120.6 L580.2,120.6 L580.5,120.6 L580.7,120.6 L581.0,120.6 L581.3,120.6 L581.5,120.6 L581.8,120.6 L582.1,120.6 L582.3,120.6 L582.6,120.6 L582.9,120.6 L583.1,120.6 L583.4,120.6 L583.7,120.7 L583.8,120.7 L583.9,120.7 L584.1,120.7 L584.2,120.7 L584.4,120.8 L584.5,120.8 L584.6,120.8 L584.8,120.9 L584.9,120.9 L585.0,120.9 L585.2,121.0 L585.3,121.0 L585.4,121.0 L585.6,121.1 L585.7,121.1 L585.8,121.1 L586.0,121.2 L586.1,121.2 L586.2,121.3 L586.4,121.3 L586.5,121.4 L586.6,121.4 L586.8,121.5 L586.9,121.6 L587.0,121.7 L587.2,121.7 L587.3,121.8 L587.4,121.9 L587.6,122.0 L587.7,122.1 L587.8,122.2 L588.0,122.3 L588.1,122.4 L588.3,122.6 L588.4,122.7 L588.5,122.8 L588.7,122.9 L588.8,123.1 L588.9,123.2 L589.1,123.3 L589.2,123.5 L589.3,123.6 L589.5,123.8 L589.6,123.9 L589.7,124.1 L589.9,124.2 L590.0,124.4 L590.1,124.5 L590.3,124.7 L590.4,124.8 L590.5,125.0 L590.7,125.2 L590.7,125.2 L590.9,125.5 L591.1,125.7 L591.2,125.9 L591.3,126.2 L591.5,126.4 L591.6,126.7 L591.7,127.0 L591.9,127.2 L592.0,127.5 L592.2,127.8 L592.3,128.1 L592.4,128.4 L592.6,128.8 L592.7,129.1 L592.8,129.4 L593.0,129.7 L593.1,130.0 L593.2,130.2 L593.4,130.5 L593.5,130.8 L593.6,131.0 L593.8,131.3 L593.9,131.5 L594.0,131.8 L594.2,132.1 L594.3,132.3 L594.4,132.6 L594.6,132.9 L594.7,133.2 L594.8,133.5 L595.0,133.7 L595.1,134.0 L595.2,134.2 L595.4,134.4 L595.5,134.6 L595.6,134.7 L595.8,134.9 L595.9,134.9 L596.1,135.0 L596.3,134.9 L596.5,134.7 L596.6,134.5 L596.7,134.1 L596.9,133.8 L597.0,133.3 L597.1,132.9 L597.3,132.4 L597.4,131.8 L597.5,131.3 L597.7,130.7 L597.8,130.1 L597.9,129.4 L598.1,128.5 L598.2,127.6 L598.3,126.5 L598.5,125.3 L598.6,124.0 L598.7,122.6 L598.9,121.1 L599.0,119.5 L599.1,117.8 L599.3,115.9 L599.3,115.3 L599.4,113.7 L599.5,110.4 L599.7,106.1 L599.8,101.0 L600.0,95.5 L600.1,89.8 L600.2,84.0 L600.4,78.5 L600.5,73.5 L600.6,69.2 L600.8,65.8 L600.9,63.7 L601.0,63.0 L601.2,67.0 L601.3,76.2 L601.4,88.1 L601.6,100.3 L601.7,110.5 L601.8,115.3 L601.8,116.2 L602.0,119.8 L602.1,122.8 L602.2,125.3 L602.4,127.5 L602.5,129.2 L602.5,129.5 L602.6,130.9 L602.8,132.4 L602.9,133.5 L603.0,133.8 L603.2,133.2 L603.3,132.1 L603.4,130.7 L603.6,129.2 L603.7,127.9 L603.7,127.7 L603.9,126.8 L604.0,125.6 L604.1,124.3 L604.3,123.1 L604.4,121.9 L604.5,121.0 L604.7,120.3 L604.8,120.0 L605.1,120.0 L605.2,120.1 L605.3,120.1 L605.5,120.2 L605.6,120.3 L605.7,120.4 L605.9,120.4 L606.0,120.5 L606.1,120.6 L606.3,120.6 L606.4,120.6 L606.7,120.6 L606.9,120.6 L607.2,120.6 L607.5,120.6 L607.8,120.6 L608.0,120.6 L608.3,120.6 L608.6,120.6 L608.8,120.6 L609.1,120.6 L609.4,120.6 L609.6,120.6 L609.9,120.6 L610.2,120.6 L610.4,120.6 L610.7,120.6 L611.0,120.6 L611.2,120.6 L611.5,120.6 L611.8,120.6 L612.1,120.6 L612.3,120.6 L612.6,120.6 L612.9,120.6 L613.1,120.6 L613.4,120.6 L613.7,120.6 L613.9,120.6 L614.2,120.6 L614.5,120.6 L614.7,120.6 L615.0,120.6 L615.3,120.6 L615.6,120.6 L615.8,120.6 L616.1,120.6 L616.4,120.6 L616.6,120.6 L616.9,120.6 L617.2,120.6 L617.4,120.6 L617.7,120.6 L618.0,120.6 L618.2,120.6 L618.5,120.6 L618.8,120.6 L619.0,120.6 L619.3,120.6 L619.6,120.6 L619.9,120.6 L620.1,120.6 L620.4,120.6 L620.7,120.6 L620.9,120.6 L621.2,120.6 L621.5,120.6 L621.7,120.6 L622.0,120.6 L622.3,120.6 L622.5,120.6 L622.8,120.6 L623.1,120.6 L623.4,120.6 L623.6,120.6 L623.9,120.6 L624.2,120.6 L624.4,120.6 L624.7,120.6 L625.0,120.6 L625.2,120.6 L625.5,120.6 L625.8,120.6 L626.0,120.6 L626.3,120.6 L626.6,120.6 L626.8,120.6 L627.1,120.6 L627.4,120.6 L627.7,120.6 L627.9,120.6 L628.2,120.6 L628.5,120.6 L628.7,120.6 L629.0,120.6 L629.3,120.6 L629.5,120.6 L629.8,120.6 L630.1,120.6 L630.3,120.6 L630.6,120.6 L630.9,120.6 L631.2,120.6 L631.4,120.6 L631.7,120.6 L632.0,120.6 L632.2,120.6 L632.5,120.6 L632.8,120.6 L633.0,120.6 L633.3,120.6 L633.6,120.6 L633.8,120.6 L634.1,120.6 L634.4,120.6 L634.6,120.6 L634.9,120.6 L635.2,120.6 L635.5,120.6 L635.7,120.6 L636.0,120.6 L636.3,120.6 L636.5,120.6 L636.8,120.6 L637.1,120.6 L637.3,120.6 L637.6,120.6 L637.9,120.6 L638.1,120.6 L638.4,120.6 L638.7,120.6 L639.0,120.6 L639.2,120.6 L639.5,120.6 L639.8,120.6 L640.0,120.6 L640.3,120.6 L640.6,120.6 L640.8,120.6 L641.1,120.6 L641.4,120.6 L641.6,120.6 L641.9,120.6 L642.2,120.6 L642.4,120.6 L642.7,120.6 L643.0,120.6 L643.3,120.6 L643.5,120.6 L643.8,120.6 L644.1,120.6 L644.3,120.6 L644.6,120.6 L644.9,120.6 L645.1,120.6 L645.4,120.6 L645.7,120.6 L645.9,120.6 L646.2,120.6 L646.5,120.6 L646.8,120.6 L647.0,120.6 L647.3,120.6 L647.6,120.7 L647.8,120.7 L648.1,120.7 L648.4,120.7 L648.5,120.8 L648.6,120.8 L648.8,120.8 L648.9,120.8 L649.0,120.8 L649.2,120.9 L649.3,120.9 L649.4,120.9 L649.6,120.9 L649.7,120.9 L649.8,121.0 L650.0,121.0 L650.1,121.0 L650.2,121.0 L650.4,121.0 L650.5,121.1 L650.7,121.1 L650.8,121.1 L650.9,121.2 L651.1,121.2 L651.2,121.3 L651.3,121.3 L651.5,121.3 L651.6,121.4 L651.7,121.4 L651.9,121.5 L652.0,121.5 L652.1,121.6 L652.3,121.6 L652.4,121.7" fill="none" stroke="#4f96cf" stroke-width="0.95" stroke-linejoin="round" stroke-linecap="round" />
<text transform="translate(450.10,28.00) scale(0.868,1)" text-anchor="middle" font-size="10" font-weight="bold" fill="#161616" stroke="#161616" stroke-width="0.25">prediction and error</text>
<text transform="translate(592.35,28.00) scale(0.868,1)" text-anchor="middle" font-size="10" font-weight="bold" fill="#161616" stroke="#161616" stroke-width="0.25">action</text>
<text transform="translate(363.95,85.95) rotate(-90) scale(0.848,0.9)" text-anchor="middle" font-size="10.3" font-weight="normal" fill="#161616" stroke="#161616" stroke-width="0.25">target size / grasping</text>
<text transform="translate(526.45,11.10) scale(0.865,1)" text-anchor="middle" font-size="14" font-weight="bold" fill="#000" stroke="#000" stroke-width="0.2">RH cong</text>
<path d="M33.60,223.00 V329.40 H154.30" fill="none" stroke="#4d4d4d" stroke-width="1"/>
<path d="M33.60,329.40 v-1.6" stroke="#4d4d4d" stroke-width="0.9"/>
<text transform="translate(33.40,343.60) scale(0.835,1)" text-anchor="middle" font-size="10.3" font-weight="normal" fill="#161616" stroke="#161616" stroke-width="0.25">0</text>
<path d="M93.95,329.40 v-1.6" stroke="#4d4d4d" stroke-width="0.9"/>
<text transform="translate(93.75,343.60) scale(0.835,1)" text-anchor="middle" font-size="10.3" font-weight="normal" fill="#161616" stroke="#161616" stroke-width="0.25">1</text>
<path d="M154.30,329.40 v-1.6" stroke="#4d4d4d" stroke-width="0.9"/>
<text transform="translate(154.10,343.60) scale(0.835,1)" text-anchor="middle" font-size="10.3" font-weight="normal" fill="#161616" stroke="#161616" stroke-width="0.25">2</text>
<path d="M33.60,329.40 h1.6" stroke="#4d4d4d" stroke-width="0.9"/>
<text transform="translate(28.90,333.35) scale(0.835,1)" text-anchor="end" font-size="10.3" font-weight="normal" fill="#161616" stroke="#161616" stroke-width="0.25">-1</text>
<path d="M33.60,302.80 h1.6" stroke="#4d4d4d" stroke-width="0.9"/>
<text transform="translate(28.90,306.75) scale(0.835,1)" text-anchor="end" font-size="10.3" font-weight="normal" fill="#161616" stroke="#161616" stroke-width="0.25">-0.5</text>
<path d="M33.60,276.20 h1.6" stroke="#4d4d4d" stroke-width="0.9"/>
<text transform="translate(28.90,280.15) scale(0.835,1)" text-anchor="end" font-size="10.3" font-weight="normal" fill="#161616" stroke="#161616" stroke-width="0.25">0</text>
<path d="M33.60,249.60 h1.6" stroke="#4d4d4d" stroke-width="0.9"/>
<text transform="translate(28.90,253.55) scale(0.835,1)" text-anchor="end" font-size="10.3" font-weight="normal" fill="#161616" stroke="#161616" stroke-width="0.25">0.5</text>
<path d="M33.60,223.00 h1.6" stroke="#4d4d4d" stroke-width="0.9"/>
<text transform="translate(28.90,226.95) scale(0.835,1)" text-anchor="end" font-size="10.3" font-weight="normal" fill="#161616" stroke="#161616" stroke-width="0.25">1</text>
<text transform="translate(94.25,357.20) scale(0.835,1)" text-anchor="middle" font-size="10.3" font-weight="normal" fill="#161616" stroke="#161616" stroke-width="0.25">time (s)</text>
<path d="M175.90,223.00 V329.40 H296.60" fill="none" stroke="#4d4d4d" stroke-width="1"/>
<path d="M175.90,329.40 v-1.6" stroke="#4d4d4d" stroke-width="0.9"/>
<text transform="translate(175.70,343.60) scale(0.835,1)" text-anchor="middle" font-size="10.3" font-weight="normal" fill="#161616" stroke="#161616" stroke-width="0.25">0</text>
<path d="M236.25,329.40 v-1.6" stroke="#4d4d4d" stroke-width="0.9"/>
<text transform="translate(236.05,343.60) scale(0.835,1)" text-anchor="middle" font-size="10.3" font-weight="normal" fill="#161616" stroke="#161616" stroke-width="0.25">1</text>
<path d="M296.60,329.40 v-1.6" stroke="#4d4d4d" stroke-width="0.9"/>
<text transform="translate(296.40,343.60) scale(0.835,1)" text-anchor="middle" font-size="10.3" font-weight="normal" fill="#161616" stroke="#161616" stroke-width="0.25">2</text>
<path d="M175.90,329.40 h1.6" stroke="#4d4d4d" stroke-width="0.9"/>
<text transform="translate(171.20,333.35) scale(0.835,1)" text-anchor="end" font-size="10.3" font-weight="normal" fill="#161616" stroke="#161616" stroke-width="0.25">0</text>
<path d="M175.90,293.93 h1.6" stroke="#4d4d4d" stroke-width="0.9"/>
<text transform="translate(171.20,297.88) scale(0.835,1)" text-anchor="end" font-size="10.3" font-weight="normal" fill="#161616" stroke="#161616" stroke-width="0.25">0.1</text>
<path d="M175.90,258.47 h1.6" stroke="#4d4d4d" stroke-width="0.9"/>
<text transform="translate(171.20,262.42) scale(0.835,1)" text-anchor="end" font-size="10.3" font-weight="normal" fill="#161616" stroke="#161616" stroke-width="0.25">0.2</text>
<path d="M175.90,223.00 h1.6" stroke="#4d4d4d" stroke-width="0.9"/>
<text transform="translate(171.20,226.95) scale(0.835,1)" text-anchor="end" font-size="10.3" font-weight="normal" fill="#161616" stroke="#161616" stroke-width="0.25">0.3</text>
<text transform="translate(236.55,357.20) scale(0.835,1)" text-anchor="middle" font-size="10.3" font-weight="normal" fill="#161616" stroke="#161616" stroke-width="0.25">time (s)</text>
<path d="M36,276.5 H154.30" stroke="#909ea0" stroke-width="1" stroke-dasharray="1 1"/>
<path d="M33.6,329.4 L34.1,327.4 L34.6,325.5 L35.1,323.5 L35.6,321.5 L36.1,319.6 L36.6,317.6 L36.7,317.4 L37.1,316.8 L37.6,316.0 L38.1,315.3 L38.6,314.5 L39.1,313.7 L39.6,312.8 L40.1,311.9 L40.6,311.0 L41.1,310.1 L41.6,309.1 L42.1,308.2 L42.7,307.2 L43.2,306.1 L43.7,305.1 L44.2,304.0 L44.7,302.9 L45.2,301.8 L45.7,300.7 L46.2,299.5 L46.7,298.4 L47.2,297.2 L47.7,296.0 L48.2,294.8 L48.7,293.5 L49.2,292.3 L49.7,291.1 L50.2,289.8 L50.7,288.5 L51.2,287.3 L51.7,286.0 L52.2,284.7 L52.7,283.4 L53.2,282.1 L53.7,280.8 L54.2,279.5 L54.7,278.1 L55.2,276.8 L55.7,275.5 L56.2,274.2 L56.7,272.9 L57.2,271.5 L57.7,270.2 L58.2,268.9 L58.7,267.6 L59.2,266.3 L59.8,265.0 L60.3,263.7 L60.8,262.5 L61.3,261.2 L61.8,259.9 L62.3,258.7 L62.8,257.4 L63.3,256.2 L63.8,255.0 L64.3,253.8 L64.8,252.6 L65.3,251.4 L65.8,250.2 L66.3,249.1 L66.8,247.9 L67.3,246.8 L67.8,245.7 L68.3,244.7 L68.8,243.6 L69.3,242.6 L69.8,241.5 L70.3,240.5 L70.8,239.6 L71.3,238.6 L71.8,237.7 L72.3,236.8 L72.8,235.9 L73.3,235.1 L73.8,234.2 L74.3,233.4 L74.8,232.7 L75.3,231.9 L75.8,231.2 L76.3,230.5 L76.9,229.8 L77.4,229.2 L77.9,228.6 L78.4,228.0 L78.9,227.5 L79.4,226.9 L79.9,226.5 L80.4,226.0 L80.9,225.6 L81.4,225.2 L81.9,224.8 L82.4,224.5 L82.9,224.2 L83.4,223.9 L83.9,223.7 L84.4,223.5 L84.9,223.3 L85.4,223.2 L85.9,223.1 L86.4,223.0 L86.9,223.0 L87.4,223.0 L87.9,223.0 L88.4,223.1 L88.9,223.2 L89.4,223.3 L89.9,223.5 L90.4,223.7 L90.9,223.9 L91.4,224.2 L91.9,224.5 L92.4,224.8 L92.9,225.1 L93.4,225.5 L94.0,226.0 L94.5,226.4 L95.0,226.9 L95.5,227.4 L96.0,228.0 L96.5,228.5 L97.0,229.1 L97.5,229.8 L98.0,230.4 L98.5,231.1 L99.0,231.8 L99.5,232.6 L100.0,233.3 L100.5,234.1 L101.0,235.0 L101.5,235.8 L102.0,236.7 L102.5,237.6 L103.0,238.5 L103.5,239.5 L104.0,240.4 L104.5,241.4 L105.0,242.5 L105.5,243.5 L106.0,244.5 L106.5,245.6 L107.0,246.7 L107.5,247.8 L108.0,249.0 L108.5,250.1 L109.0,251.3 L109.5,252.5 L110.0,253.6 L110.5,254.9 L111.0,256.1 L111.6,257.3 L112.1,258.6 L112.6,259.8 L113.1,261.1 L113.6,262.4 L114.1,263.6 L114.6,264.9 L115.1,266.2 L115.6,267.5 L116.1,268.8 L116.6,270.2 L117.1,271.5 L117.6,272.8 L118.1,274.1 L118.6,275.5 L119.1,276.8 L119.6,278.1 L120.1,279.4 L120.6,280.8 L121.1,282.1 L121.6,283.4 L122.1,284.7 L122.6,286.0 L123.1,287.3 L123.6,288.6 L124.1,289.9 L124.6,291.2 L125.1,292.4 L125.6,293.7 L126.1,294.9 L126.6,296.2 L127.1,297.4 L127.6,298.6 L128.1,299.8 L128.7,301.0 L129.2,302.2 L129.7,303.3 L130.2,304.4 L130.7,305.6 L131.2,306.6 L131.7,307.7 L132.2,308.8 L132.7,309.8 L133.2,310.8 L133.7,311.8 L134.2,312.8 L134.7,313.8 L135.2,314.7 L135.7,315.6 L136.2,316.5 L136.7,317.3 L137.2,318.2 L137.7,319.0 L138.2,319.7 L138.7,320.5 L139.2,321.2 L139.7,321.9 L140.2,322.6 L140.7,323.2 L141.2,323.8 L141.7,324.4 L142.2,324.9 L142.7,325.4 L143.2,325.9 L143.7,326.4 L144.2,326.8 L144.7,327.2 L145.2,327.6 L145.8,327.9 L146.3,328.2 L146.8,328.5 L147.3,328.7 L147.8,328.9 L148.3,329.1 L148.8,329.2 L149.3,329.3 L149.8,329.4 L150.3,329.4 L150.8,329.4 L151.3,329.4 L151.8,329.4 L152.3,329.4 L152.8,329.4 L153.3,329.4 L153.8,329.4 L154.3,329.4" fill="none" stroke="#4c94d2" stroke-width="0.9" stroke-linejoin="round" stroke-linecap="round" />
<path d="M33.6,328.8 L34.1,328.6 L34.6,328.3 L35.1,328.1 L35.6,327.8 L36.1,327.4 L36.6,327.0 L37.1,326.6 L37.6,326.2 L38.1,325.7 L38.6,325.2 L39.1,324.7 L39.6,324.1 L40.1,323.5 L40.6,322.9 L41.1,322.3 L41.6,321.6 L42.1,320.9 L42.7,320.2 L43.2,319.4 L43.7,318.6 L44.2,317.8 L44.7,317.0 L45.2,316.1 L45.7,315.2 L46.2,314.3 L46.7,313.3 L47.2,312.4 L47.7,311.4 L48.2,310.4 L48.7,309.4 L49.2,308.3 L49.7,307.3 L50.2,306.2 L50.7,305.1 L51.2,303.9 L51.7,302.8 L52.2,301.6 L52.7,300.5 L53.2,299.3 L53.7,298.1 L54.2,296.9 L54.7,295.6 L55.2,294.4 L55.7,293.1 L56.2,291.9 L56.7,290.6 L57.2,289.3 L57.7,288.0 L58.2,286.7 L58.7,285.4 L59.2,284.1 L59.8,282.8 L60.3,281.5 L60.8,280.2 L61.3,278.9 L61.8,277.5 L62.3,276.2 L62.8,274.9 L63.3,273.5 L63.8,272.2 L64.3,270.9 L64.8,269.6 L65.3,268.3 L65.8,267.0 L66.3,265.7 L66.8,264.4 L67.3,263.1 L67.8,261.8 L68.3,260.5 L68.8,259.3 L69.3,258.0 L69.8,256.8 L70.3,255.5 L70.8,254.3 L71.3,253.1 L71.8,251.9 L72.3,250.8 L72.8,249.6 L73.3,248.5 L73.8,247.3 L74.3,246.2 L74.8,245.1 L75.3,244.1 L75.8,243.0 L76.3,242.0 L76.9,241.0 L77.4,240.0 L77.9,239.1 L78.4,238.1 L78.9,237.2 L79.4,236.3 L79.9,235.4 L80.4,234.6 L80.9,233.8 L81.4,233.0 L81.9,232.2 L82.4,231.5 L82.9,230.8 L83.4,230.1 L83.9,229.5 L84.4,228.9 L84.9,228.3 L85.4,227.7 L85.9,227.2 L86.4,226.7 L86.9,226.2 L87.4,225.8 L87.9,225.4 L88.4,225.0 L88.9,224.6 L89.4,224.3 L89.9,224.1 L90.4,223.8 L90.9,223.6 L91.4,223.4 L91.9,223.3 L92.4,223.1 L92.9,223.1 L93.4,223.0 L94.0,223.0 L94.5,223.0 L95.0,223.1 L95.5,223.1 L96.0,223.3 L96.5,223.4 L97.0,223.6 L97.5,223.8 L98.0,224.1 L98.5,224.3 L99.0,224.6 L99.5,225.0 L100.0,225.4 L100.5,225.8 L101.0,226.2 L101.5,226.7 L102.0,227.2 L102.5,227.7 L103.0,228.3 L103.5,228.9 L104.0,229.5 L104.5,230.1 L105.0,230.8 L105.5,231.5 L106.0,232.2 L106.5,233.0 L107.0,233.8 L107.5,234.6 L108.0,235.4 L108.5,236.3 L109.0,237.2 L109.5,238.1 L110.0,239.1 L110.5,240.0 L111.0,241.0 L111.6,242.0 L112.1,243.0 L112.6,244.1 L113.1,245.1 L113.6,246.2 L114.1,247.3 L114.6,248.5 L115.1,249.6 L115.6,250.8 L116.1,251.9 L116.6,253.1 L117.1,254.3 L117.6,255.5 L118.1,256.8 L118.6,258.0 L119.1,259.3 L119.6,260.5 L120.1,261.8 L120.6,263.1 L121.1,264.4 L121.6,265.7 L122.1,267.0 L122.6,268.3 L123.1,269.6 L123.6,270.9 L124.1,272.2 L124.6,273.5 L125.1,274.9 L125.6,276.2 L126.1,277.5 L126.6,278.9 L127.1,280.2 L127.6,281.5 L128.1,282.8 L128.7,284.1 L129.2,285.4 L129.7,286.7 L130.2,288.0 L130.7,289.3 L131.2,290.6 L131.7,291.9 L132.2,293.1 L132.7,294.4 L133.2,295.6 L133.7,296.9 L134.2,298.1 L134.7,299.3 L135.2,300.5 L135.7,301.6 L136.2,302.8 L136.7,303.9 L137.2,305.1 L137.7,306.2 L138.2,307.3 L138.7,308.3 L139.2,309.4 L139.7,310.4 L140.2,311.4 L140.7,312.4 L141.2,313.3 L141.7,314.3 L142.2,315.2 L142.7,316.1 L143.2,317.0 L143.7,317.8 L144.2,318.6 L144.7,319.4 L145.2,320.2 L145.8,320.9 L146.3,321.6 L146.8,322.3 L147.3,322.9 L147.8,323.5 L148.3,324.1 L148.8,324.7 L149.3,325.2 L149.8,325.7 L150.3,326.2 L150.8,326.6 L151.3,327.0 L151.8,327.4 L152.3,327.8 L152.8,328.1 L153.3,328.3 L153.8,328.6 L154.3,328.8" fill="none" stroke="#f7dca6" stroke-width="1.3" stroke-linejoin="round" stroke-linecap="round" />
<path d="M33.6,328.8 L34.1,328.6 L34.6,328.3 L35.1,328.1 L35.6,327.8 L36.1,327.4 L36.6,327.0 L37.1,326.6 L37.6,326.2 L38.1,325.7 L38.6,325.2 L39.1,324.7 L39.6,324.1 L40.1,323.5 L40.6,322.9 L41.1,322.3 L41.6,321.6 L42.1,320.9 L42.7,320.2 L43.2,319.4 L43.7,318.6 L44.2,317.8 L44.7,317.0 L45.2,316.1 L45.7,315.2 L46.2,314.3 L46.7,313.3 L47.2,312.4 L47.7,311.4 L48.2,310.4 L48.7,309.4 L49.2,308.3 L49.7,307.3 L50.2,306.2 L50.7,305.1 L51.2,303.9 L51.7,302.8 L52.2,301.6 L52.7,300.5 L53.2,299.3 L53.7,298.1 L54.2,296.9 L54.7,295.6 L55.2,294.4 L55.7,293.1 L56.2,291.9 L56.7,290.6 L57.2,289.3 L57.7,288.0 L58.2,286.7 L58.7,285.4 L59.2,284.1 L59.8,282.8 L60.3,281.5 L60.8,280.2 L61.3,278.9 L61.8,277.5 L62.3,276.2 L62.8,274.9 L63.3,273.5 L63.8,272.2 L64.3,270.9 L64.8,269.6 L65.3,268.3 L65.8,267.0 L66.3,265.7 L66.8,264.4 L67.3,263.1 L67.8,261.8 L68.3,260.5 L68.8,259.3 L69.3,258.0 L69.8,256.8 L70.3,255.5 L70.8,254.3 L71.3,253.1 L71.8,251.9 L72.3,250.8 L72.8,249.6 L73.3,248.5 L73.8,247.3 L74.3,246.2 L74.8,245.1 L75.3,244.1 L75.8,243.0 L76.3,242.0 L76.9,241.0 L77.4,240.0 L77.9,239.1 L78.4,238.1 L78.9,237.2 L79.4,236.3 L79.9,235.4 L80.4,234.6 L80.9,233.8 L81.4,233.0 L81.9,232.2 L82.4,231.5 L82.9,230.8 L83.4,230.1 L83.9,229.5 L84.4,228.9 L84.9,228.3 L85.4,227.7 L85.9,227.2 L86.4,226.7 L86.9,226.2 L87.4,225.8 L87.9,225.4 L88.4,225.0 L88.9,224.6 L89.4,224.3 L89.9,224.1 L90.4,223.8 L90.9,223.6 L91.4,223.4 L91.9,223.3 L92.4,223.1 L92.9,223.1 L93.4,223.0 L94.0,223.0 L94.5,223.0 L95.0,223.1 L95.5,223.1 L96.0,223.3 L96.5,223.4 L97.0,223.6 L97.5,223.8 L98.0,224.1 L98.5,224.3 L99.0,224.6 L99.5,225.0 L100.0,225.4 L100.5,225.8 L101.0,226.2 L101.5,226.7 L102.0,227.2 L102.5,227.7 L103.0,228.3 L103.5,228.9 L104.0,229.5 L104.5,230.1 L105.0,230.8 L105.5,231.5 L106.0,232.2 L106.5,233.0 L107.0,233.8 L107.5,234.6 L108.0,235.4 L108.5,236.3 L109.0,237.2 L109.5,238.1 L110.0,239.1 L110.5,240.0 L111.0,241.0 L111.6,242.0 L112.1,243.0 L112.6,244.1 L113.1,245.1 L113.6,246.2 L114.1,247.3 L114.6,248.5 L115.1,249.6 L115.6,250.8 L116.1,251.9 L116.6,253.1 L117.1,254.3 L117.6,255.5 L118.1,256.8 L118.6,258.0 L119.1,259.3 L119.6,260.5 L120.1,261.8 L120.6,263.1 L121.1,264.4 L121.6,265.7 L122.1,267.0 L122.6,268.3 L123.1,269.6 L123.6,270.9 L124.1,272.2 L124.6,273.5 L125.1,274.9 L125.6,276.2 L126.1,277.5 L126.6,278.9 L127.1,280.2 L127.6,281.5 L128.1,282.8 L128.7,284.1 L129.2,285.4 L129.7,286.7 L130.2,288.0 L130.7,289.3 L131.2,290.6 L131.7,291.9 L132.2,293.1 L132.7,294.4 L133.2,295.6 L133.7,296.9 L134.2,298.1 L134.7,299.3 L135.2,300.5 L135.7,301.6 L136.2,302.8 L136.7,303.9 L137.2,305.1 L137.7,306.2 L138.2,307.3 L138.7,308.3 L139.2,309.4 L139.7,310.4 L140.2,311.4 L140.7,312.4 L141.2,313.3 L141.7,314.3 L142.2,315.2 L142.7,316.1 L143.2,317.0 L143.7,317.8 L144.2,318.6 L144.7,319.4 L145.2,320.2 L145.8,320.9 L146.3,321.6 L146.8,322.3 L147.3,322.9 L147.8,323.5 L148.3,324.1 L148.8,324.7 L149.3,325.2 L149.8,325.7 L150.3,326.2 L150.8,326.6 L151.3,327.0 L151.8,327.4 L152.3,327.8 L152.8,328.1 L153.3,328.3 L153.8,328.6 L154.3,328.8" fill="none" stroke="#cf7f2e" stroke-width="0.8" stroke-linejoin="round" stroke-linecap="round" />
<path d="M175.9,329.4 L176.0,327.8 L176.1,326.0 L176.2,324.1 L176.2,322.1 L176.3,319.9 L176.4,317.6 L176.5,315.2 L176.6,312.7 L176.6,311.7 L176.7,309.9 L176.8,306.6 L176.8,302.8 L176.9,298.5 L177.0,293.8 L177.1,288.9 L177.2,283.7 L177.3,278.5 L177.4,273.2 L177.5,267.9 L177.5,262.7 L177.6,257.8 L177.7,253.1 L177.8,248.8 L177.9,244.9 L178.0,241.6 L178.1,238.8 L178.1,236.8 L178.2,235.5 L178.3,235.1 L178.4,236.1 L178.5,238.8 L178.6,243.0 L178.7,248.3 L178.7,254.3 L178.8,260.8 L178.9,267.5 L179.0,273.9 L179.0,276.2 L179.1,280.6 L179.2,289.6 L179.3,299.7 L179.4,309.6 L179.4,317.9 L179.5,323.2 L179.6,324.3 L179.7,324.0 L179.8,323.4 L179.9,322.6 L180.0,321.7 L180.0,320.8 L180.1,319.9 L180.2,319.0 L180.2,318.8 L180.3,318.3 L180.4,317.5 L180.5,316.7 L180.6,315.8 L180.6,315.0 L180.7,314.2 L180.8,313.4 L180.9,312.7 L181.0,312.2 L181.1,311.8 L181.2,311.5 L181.3,311.5 L181.5,311.4 L181.7,311.4 L181.9,311.4 L182.0,311.4 L182.2,311.3 L182.4,311.3 L182.5,311.3 L182.7,311.3 L182.9,311.3 L183.1,311.3 L183.2,311.3 L183.4,311.3 L183.6,311.3 L183.8,311.3 L183.9,311.3 L184.1,311.3 L184.3,311.3 L184.4,311.3 L184.6,311.3 L184.8,311.3 L185.0,311.3 L185.1,311.3 L185.3,311.3 L185.5,311.3 L185.6,311.3 L185.8,311.3 L186.0,311.3 L186.2,311.3 L186.3,311.3 L186.5,311.3 L186.7,311.3 L186.9,311.3 L187.0,311.3 L187.2,311.3 L187.4,311.3 L187.5,311.3 L187.7,311.3 L187.9,311.3 L188.1,311.3 L188.2,311.3 L188.4,311.3 L188.6,311.3 L188.8,311.3 L188.9,311.3 L189.1,311.3 L189.3,311.3 L189.4,311.3 L189.6,311.3 L189.8,311.3 L190.0,311.3 L190.1,311.3 L190.3,311.3 L190.5,311.3 L190.7,311.3 L190.8,311.3 L191.0,311.3 L191.2,311.3 L191.3,311.3 L191.5,311.3 L191.7,311.3 L191.9,311.3 L192.0,311.3 L192.2,311.3 L192.4,311.3 L192.6,311.3 L192.7,311.3 L192.9,311.3 L193.1,311.3 L193.2,311.3 L193.4,311.3 L193.6,311.3 L193.8,311.3 L193.9,311.3 L194.1,311.3 L194.3,311.3 L194.4,311.3 L194.6,311.3 L194.8,311.3 L195.0,311.3 L195.1,311.3 L195.3,311.3 L195.5,311.3 L195.7,311.3 L195.8,311.3 L196.0,311.3 L196.2,311.3 L196.3,311.3 L196.5,311.3 L196.7,311.3 L196.9,311.3 L197.0,311.3 L197.2,311.3 L197.4,311.3 L197.6,311.3 L197.7,311.3 L197.9,311.3 L198.1,311.3 L198.2,311.3 L198.4,311.3 L198.6,311.3 L198.8,311.3 L198.9,311.3 L199.1,311.3 L199.3,311.3 L199.5,311.3 L199.6,311.3 L199.8,311.3 L200.0,311.3 L200.1,311.3 L200.3,311.3 L200.5,311.3 L200.7,311.3 L200.8,311.3 L201.0,311.3 L201.2,311.3 L201.4,311.3 L201.5,311.3 L201.7,311.3 L201.9,311.3 L202.0,311.3 L202.2,311.3 L202.4,311.3 L202.6,311.3 L202.7,311.3 L202.9,311.3 L203.1,311.3 L203.2,311.3 L203.4,311.3 L203.6,311.3 L203.8,311.3 L203.9,311.3 L204.1,311.3 L204.3,311.3 L204.5,311.3 L204.6,311.3 L204.8,311.3 L205.0,311.3 L205.1,311.3 L205.3,311.3 L205.5,311.3 L205.7,311.3 L205.8,311.3 L206.0,311.3 L206.2,311.3 L206.4,311.3 L206.5,311.3 L206.7,311.3 L206.9,311.3 L207.0,311.3 L207.2,311.3 L207.4,311.3 L207.6,311.3 L207.7,311.3 L207.9,311.3 L208.1,311.3 L208.3,311.3 L208.4,311.3 L208.6,311.3 L208.8,311.3 L208.9,311.3 L209.1,311.3 L209.3,311.3 L209.5,311.3 L209.6,311.3 L209.8,311.3 L210.0,311.3 L210.2,311.3 L210.3,311.3 L210.5,311.3 L210.7,311.3 L210.8,311.3 L211.0,311.3 L211.2,311.3 L211.4,311.3 L211.5,311.3 L211.7,311.3 L211.9,311.3 L212.0,311.3 L212.2,311.3 L212.4,311.3 L212.6,311.3 L212.7,311.3 L212.9,311.3 L213.1,311.3 L213.3,311.3 L213.4,311.3 L213.6,311.3 L213.8,311.3 L213.9,311.3 L214.1,311.3 L214.3,311.3 L214.5,311.3 L214.6,311.3 L214.8,311.3 L215.0,311.3 L215.2,311.3 L215.3,311.3 L215.5,311.3 L215.7,311.3 L215.8,311.3 L216.0,311.3 L216.2,311.3 L216.4,311.3 L216.5,311.3 L216.7,311.3 L216.9,311.3 L217.1,311.3 L217.2,311.3 L217.4,311.3 L217.6,311.3 L217.7,311.3 L217.9,311.3 L218.1,311.3 L218.3,311.3 L218.4,311.3 L218.6,311.3 L218.8,311.3 L219.0,311.3 L219.1,311.3 L219.3,311.3 L219.5,311.3 L219.6,311.3 L219.8,311.3 L220.0,311.3 L220.2,311.3 L220.3,311.3 L220.5,311.3 L220.7,311.3 L220.8,311.3 L221.0,311.3 L221.2,311.3 L221.4,311.3 L221.5,311.3 L221.7,311.3 L221.9,311.3 L222.1,311.3 L222.2,311.3 L222.4,311.3 L222.6,311.3 L222.7,311.3 L222.9,311.3 L223.1,311.3 L223.3,311.3 L223.4,311.3 L223.6,311.3 L223.8,311.3 L224.0,311.3 L224.1,311.3 L224.3,311.3 L224.5,311.3 L224.6,311.3 L224.8,311.3 L225.0,311.3 L225.2,311.3 L225.3,311.3 L225.5,311.3 L225.7,311.4 L225.9,311.4 L226.0,311.4 L226.2,311.4 L226.4,311.4 L226.5,311.4 L226.7,311.4 L226.9,311.4 L227.1,311.5 L227.2,311.5 L227.4,311.5 L227.6,311.5 L227.8,311.5 L227.9,311.5 L228.1,311.6 L228.3,311.6 L228.4,311.6 L228.6,311.6 L228.8,311.7 L229.0,311.7 L229.1,311.7 L229.3,311.7 L229.5,311.7 L229.6,311.8 L229.8,311.8 L230.0,311.8 L230.2,311.8 L230.3,311.9 L230.5,311.9 L230.7,311.9 L230.9,312.0 L231.0,312.1 L231.2,312.1 L231.4,312.2 L231.5,312.2 L231.7,312.3 L231.9,312.4 L232.1,312.4 L232.2,312.5 L232.4,312.5 L232.6,312.5 L232.8,312.5 L232.9,312.6 L233.1,312.5 L233.3,312.5 L233.4,312.5 L233.6,312.4 L233.8,312.3 L234.0,312.2 L234.1,312.1 L234.3,312.0 L234.5,311.9 L234.7,311.8 L234.8,311.7 L235.0,311.6 L235.2,311.4 L235.3,311.3 L235.4,311.2 L235.5,311.2 L235.6,311.1 L235.7,311.0 L235.8,310.9 L235.9,310.7 L235.9,310.6 L236.0,310.5 L236.1,310.4 L236.2,310.2 L236.3,310.1 L236.4,310.0 L236.5,309.9 L236.6,309.7 L236.6,309.6 L236.7,309.5 L236.8,309.4 L236.9,309.4 L237.0,309.3 L237.2,309.2 L237.3,309.2 L237.5,309.2 L237.7,309.4 L237.8,309.4 L237.8,309.5 L237.9,309.6 L238.0,309.7 L238.1,309.9 L238.2,310.0 L238.3,310.1 L238.4,310.2 L238.5,310.3 L238.5,310.4 L238.6,310.6 L238.7,310.7 L238.8,310.8 L238.9,310.9 L239.0,311.0 L239.1,311.0 L239.1,311.1 L239.2,311.2 L239.3,311.3 L239.4,311.4 L239.5,311.5 L239.6,311.6 L239.7,311.7 L239.8,311.7 L240.0,311.7 L240.2,311.7 L240.3,311.7 L240.5,311.7 L240.7,311.7 L240.9,311.6 L241.0,311.6 L241.2,311.6 L241.4,311.6 L241.6,311.5 L241.7,311.5 L241.9,311.5 L242.1,311.5 L242.2,311.5 L242.4,311.5 L242.6,311.5 L242.8,311.5 L242.9,311.5 L243.1,311.5 L243.3,311.5 L243.5,311.5 L243.6,311.5 L243.8,311.5 L244.0,311.5 L244.1,311.5 L244.3,311.5 L244.5,311.5 L244.7,311.5 L244.8,311.5 L245.0,311.5 L245.2,311.5 L245.4,311.5 L245.5,311.5 L245.7,311.5 L245.9,311.5 L246.0,311.5 L246.2,311.5 L246.4,311.5 L246.6,311.5 L246.7,311.5 L246.9,311.5 L247.1,311.5 L247.3,311.5 L247.4,311.5 L247.6,311.5 L247.8,311.5 L247.9,311.5 L248.1,311.5 L248.3,311.5 L248.5,311.5 L248.6,311.5 L248.8,311.5 L249.0,311.5 L249.1,311.5 L249.3,311.5 L249.5,311.5 L249.7,311.5 L249.8,311.5 L250.0,311.5 L250.2,311.5 L250.4,311.5 L250.5,311.5 L250.7,311.5 L250.9,311.5 L251.0,311.5 L251.2,311.5 L251.4,311.5 L251.6,311.5 L251.7,311.5 L251.9,311.5 L252.1,311.5 L252.3,311.5 L252.4,311.5 L252.6,311.5 L252.8,311.5 L252.9,311.5 L253.1,311.5 L253.3,311.5 L253.5,311.5 L253.6,311.5 L253.8,311.5 L254.0,311.5 L254.2,311.5 L254.3,311.5 L254.5,311.5 L254.7,311.5 L254.8,311.5 L255.0,311.5 L255.2,311.5 L255.4,311.5 L255.5,311.5 L255.7,311.5 L255.9,311.5 L256.1,311.5 L256.2,311.5 L256.4,311.5 L256.6,311.5 L256.7,311.5 L256.9,311.5 L257.1,311.5 L257.3,311.5 L257.4,311.5 L257.6,311.5 L257.8,311.5 L257.9,311.5 L258.1,311.5 L258.3,311.5 L258.5,311.5 L258.6,311.5 L258.8,311.5 L259.0,311.5 L259.2,311.5 L259.3,311.5 L259.5,311.5 L259.7,311.5 L259.8,311.5 L260.0,311.5 L260.2,311.5 L260.4,311.5 L260.5,311.5 L260.7,311.5 L260.9,311.5 L261.1,311.5 L261.2,311.5 L261.4,311.5 L261.6,311.5 L261.7,311.5 L261.9,311.5 L262.1,311.5 L262.3,311.5 L262.4,311.5 L262.6,311.5 L262.8,311.5 L263.0,311.5 L263.1,311.5 L263.3,311.5 L263.5,311.5 L263.6,311.5 L263.8,311.5 L264.0,311.5 L264.2,311.5 L264.3,311.5 L264.5,311.5 L264.7,311.5 L264.9,311.5 L265.0,311.5 L265.2,311.5 L265.4,311.5 L265.5,311.5 L265.7,311.5 L265.9,311.5 L266.1,311.5 L266.2,311.5 L266.4,311.5 L266.6,311.5 L266.7,311.5 L266.9,311.5 L267.1,311.5 L267.3,311.5 L267.4,311.5 L267.6,311.5 L267.8,311.5 L268.0,311.5 L268.1,311.5 L268.3,311.5 L268.5,311.5 L268.6,311.5 L268.8,311.5 L269.0,311.5 L269.2,311.5 L269.3,311.5 L269.5,311.5 L269.7,311.5 L269.9,311.5 L270.0,311.5 L270.2,311.5 L270.4,311.5 L270.5,311.5 L270.7,311.5 L270.9,311.5 L271.1,311.5 L271.2,311.5 L271.4,311.5 L271.6,311.5 L271.8,311.5 L271.9,311.5 L272.1,311.5 L272.3,311.5 L272.4,311.5 L272.6,311.5 L272.8,311.5 L273.0,311.5 L273.1,311.5 L273.3,311.5 L273.5,311.5 L273.7,311.5 L273.8,311.5 L274.0,311.5 L274.2,311.5 L274.3,311.5 L274.5,311.5 L274.7,311.5 L274.9,311.5 L275.0,311.5 L275.2,311.5 L275.4,311.5 L275.5,311.5 L275.7,311.5 L275.9,311.5 L276.1,311.5 L276.2,311.5 L276.4,311.5 L276.6,311.5 L276.8,311.5 L276.9,311.5 L277.1,311.5 L277.3,311.5 L277.4,311.5 L277.6,311.5 L277.8,311.5 L278.0,311.5 L278.1,311.5 L278.3,311.5 L278.5,311.5 L278.7,311.5 L278.8,311.5 L279.0,311.5 L279.2,311.5 L279.3,311.5 L279.5,311.5 L279.7,311.5 L279.9,311.5 L280.0,311.5 L280.2,311.5 L280.4,311.5 L280.6,311.5 L280.7,311.5 L280.9,311.5 L281.1,311.5 L281.2,311.5 L281.4,311.5 L281.6,311.5 L281.8,311.5 L281.9,311.5 L282.1,311.5 L282.3,311.5 L282.5,311.5 L282.6,311.5 L282.8,311.5 L283.0,311.5 L283.1,311.5 L283.3,311.5 L283.5,311.5 L283.7,311.5 L283.8,311.5 L284.0,311.5 L284.2,311.5 L284.3,311.5 L284.5,311.5 L284.7,311.5 L284.9,311.5 L285.0,311.5 L285.2,311.5 L285.4,311.5 L285.6,311.5 L285.7,311.5 L285.9,311.5 L286.1,311.5 L286.2,311.5 L286.4,311.5 L286.6,311.5 L286.8,311.5 L286.9,311.5 L287.1,311.5 L287.3,311.5 L287.5,311.5 L287.6,311.5 L287.8,311.5 L288.0,311.6 L288.1,311.6 L288.3,311.6 L288.5,311.6 L288.7,311.6 L288.8,311.6 L289.0,311.6 L289.2,311.6 L289.4,311.6 L289.5,311.6 L289.7,311.6 L289.9,311.6 L290.0,311.6 L290.2,311.6 L290.4,311.7 L290.6,311.7 L290.7,311.7 L290.9,311.7 L291.1,311.7 L291.3,311.7 L291.4,311.7 L291.6,311.7 L291.8,311.8 L291.9,311.8 L292.1,311.8 L292.3,311.8 L292.5,311.8 L292.6,311.9 L292.8,311.9 L293.0,311.9 L293.1,311.9 L293.3,312.0 L293.5,312.0 L293.7,312.0 L293.8,312.0 L294.0,312.1 L294.2,312.1 L294.4,312.1 L294.5,312.2 L294.7,312.2 L294.9,312.2 L295.0,312.2 L295.2,312.3 L295.4,312.3 L295.6,312.3 L295.7,312.4 L295.9,312.4 L296.1,312.4 L296.3,312.5 L296.4,312.5 L296.6,312.6" fill="none" stroke="#4f96cf" stroke-width="0.95" stroke-linejoin="round" stroke-linecap="round" />
<text transform="translate(94.25,219.30) scale(0.868,1)" text-anchor="middle" font-size="10" font-weight="bold" fill="#161616" stroke="#161616" stroke-width="0.25">prediction and error</text>
<text transform="translate(236.65,219.30) scale(0.868,1)" text-anchor="middle" font-size="10" font-weight="bold" fill="#161616" stroke="#161616" stroke-width="0.25">action</text>
<text transform="translate(8.10,277.10) rotate(-90) scale(0.848,0.9)" text-anchor="middle" font-size="10.3" font-weight="normal" fill="#161616" stroke="#161616" stroke-width="0.25">target size / grasping</text>
<text transform="translate(168.40,202.40) scale(0.865,1)" text-anchor="middle" font-size="14" font-weight="bold" fill="#000" stroke="#000" stroke-width="0.2">VH incong</text>
<path d="M389.45,223.00 V329.40 H510.15" fill="none" stroke="#4d4d4d" stroke-width="1"/>
<path d="M389.45,329.40 v-1.6" stroke="#4d4d4d" stroke-width="0.9"/>
<text transform="translate(389.25,343.60) scale(0.835,1)" text-anchor="middle" font-size="10.3" font-weight="normal" fill="#161616" stroke="#161616" stroke-width="0.25">0</text>
<path d="M449.80,329.40 v-1.6" stroke="#4d4d4d" stroke-width="0.9"/>
<text transform="translate(449.60,343.60) scale(0.835,1)" text-anchor="middle" font-size="10.3" font-weight="normal" fill="#161616" stroke="#161616" stroke-width="0.25">1</text>
<path d="M510.15,329.40 v-1.6" stroke="#4d4d4d" stroke-width="0.9"/>
<text transform="translate(509.95,343.60) scale(0.835,1)" text-anchor="middle" font-size="10.3" font-weight="normal" fill="#161616" stroke="#161616" stroke-width="0.25">2</text>
<path d="M389.45,329.40 h1.6" stroke="#4d4d4d" stroke-width="0.9"/>
<text transform="translate(384.75,333.35) scale(0.835,1)" text-anchor="end" font-size="10.3" font-weight="normal" fill="#161616" stroke="#161616" stroke-width="0.25">-1</text>
<path d="M389.45,302.80 h1.6" stroke="#4d4d4d" stroke-width="0.9"/>
<text transform="translate(384.75,306.75) scale(0.835,1)" text-anchor="end" font-size="10.3" font-weight="normal" fill="#161616" stroke="#161616" stroke-width="0.25">-0.5</text>
<path d="M389.45,276.20 h1.6" stroke="#4d4d4d" stroke-width="0.9"/>
<text transform="translate(384.75,280.15) scale(0.835,1)" text-anchor="end" font-size="10.3" font-weight="normal" fill="#161616" stroke="#161616" stroke-width="0.25">0</text>
<path d="M389.45,249.60 h1.6" stroke="#4d4d4d" stroke-width="0.9"/>
<text transform="translate(384.75,253.55) scale(0.835,1)" text-anchor="end" font-size="10.3" font-weight="normal" fill="#161616" stroke="#161616" stroke-width="0.25">0.5</text>
<path d="M389.45,223.00 h1.6" stroke="#4d4d4d" stroke-width="0.9"/>
<text transform="translate(384.75,226.95) scale(0.835,1)" text-anchor="end" font-size="10.3" font-weight="normal" fill="#161616" stroke="#161616" stroke-width="0.25">1</text>
<text transform="translate(450.10,357.20) scale(0.835,1)" text-anchor="middle" font-size="10.3" font-weight="normal" fill="#161616" stroke="#161616" stroke-width="0.25">time (s)</text>
<path d="M531.50,223.00 V329.40 H652.40" fill="none" stroke="#4d4d4d" stroke-width="1"/>
<path d="M531.50,329.40 v-1.6" stroke="#4d4d4d" stroke-width="0.9"/>
<text transform="translate(531.30,343.60) scale(0.835,1)" text-anchor="middle" font-size="10.3" font-weight="normal" fill="#161616" stroke="#161616" stroke-width="0.25">0</text>
<path d="M591.95,329.40 v-1.6" stroke="#4d4d4d" stroke-width="0.9"/>
<text transform="translate(591.75,343.60) scale(0.835,1)" text-anchor="middle" font-size="10.3" font-weight="normal" fill="#161616" stroke="#161616" stroke-width="0.25">1</text>
<path d="M652.40,329.40 v-1.6" stroke="#4d4d4d" stroke-width="0.9"/>
<text transform="translate(652.20,343.60) scale(0.835,1)" text-anchor="middle" font-size="10.3" font-weight="normal" fill="#161616" stroke="#161616" stroke-width="0.25">2</text>
<path d="M531.50,329.40 h1.6" stroke="#4d4d4d" stroke-width="0.9"/>
<text transform="translate(526.80,333.35) scale(0.835,1)" text-anchor="end" font-size="10.3" font-weight="normal" fill="#161616" stroke="#161616" stroke-width="0.25">0</text>
<path d="M531.50,293.93 h1.6" stroke="#4d4d4d" stroke-width="0.9"/>
<text transform="translate(526.80,297.88) scale(0.835,1)" text-anchor="end" font-size="10.3" font-weight="normal" fill="#161616" stroke="#161616" stroke-width="0.25">0.1</text>
<path d="M531.50,258.47 h1.6" stroke="#4d4d4d" stroke-width="0.9"/>
<text transform="translate(526.80,262.42) scale(0.835,1)" text-anchor="end" font-size="10.3" font-weight="normal" fill="#161616" stroke="#161616" stroke-width="0.25">0.2</text>
<path d="M531.50,223.00 h1.6" stroke="#4d4d4d" stroke-width="0.9"/>
<text transform="translate(526.80,226.95) scale(0.835,1)" text-anchor="end" font-size="10.3" font-weight="normal" fill="#161616" stroke="#161616" stroke-width="0.25">0.3</text>
<text transform="translate(592.25,357.20) scale(0.835,1)" text-anchor="middle" font-size="10.3" font-weight="normal" fill="#161616" stroke="#161616" stroke-width="0.25">time (s)</text>
<path d="M391,276.5 H510.15" stroke="#cfe1f0" stroke-width="1" stroke-dasharray="1 1"/>
<path d="M389.4,329.4 L390.0,329.4 L390.5,329.4 L391.0,329.4 L391.5,329.4 L392.0,329.4 L392.5,329.4 L393.0,329.4 L393.5,329.3 L394.0,329.3 L394.5,329.3 L395.0,329.3 L395.5,329.3 L396.0,329.1 L396.5,329.0 L397.0,328.8 L397.5,328.6 L398.0,328.4 L398.5,328.1 L399.0,327.8 L399.5,327.4 L400.0,327.1 L400.5,326.7 L401.0,326.2 L401.5,325.7 L402.0,325.3 L402.5,324.7 L403.0,324.2 L403.5,323.6 L404.0,323.0 L404.5,322.3 L405.0,321.6 L405.5,320.9 L406.0,320.2 L406.5,319.4 L407.1,318.6 L407.6,317.8 L408.1,317.0 L408.6,316.1 L409.1,315.2 L409.6,314.3 L410.1,313.4 L410.6,312.4 L411.1,311.4 L411.6,310.4 L412.1,309.4 L412.6,308.4 L413.1,307.3 L413.6,306.2 L414.1,305.1 L414.6,304.0 L415.1,302.8 L415.6,301.7 L416.1,300.5 L416.6,299.3 L417.1,298.1 L417.6,296.9 L418.1,295.7 L418.6,294.4 L419.1,293.2 L419.6,291.9 L420.1,290.7 L420.6,289.4 L421.1,288.1 L421.6,286.8 L422.1,285.5 L422.6,284.2 L423.1,282.9 L423.6,281.5 L424.2,280.2 L424.7,278.9 L425.2,277.6 L425.7,276.2 L426.2,274.9 L426.7,273.6 L427.2,272.3 L427.7,270.9 L428.2,269.6 L428.7,268.3 L429.2,267.0 L429.7,265.7 L430.2,264.4 L430.7,263.1 L431.2,261.8 L431.7,260.5 L432.2,259.3 L432.7,258.0 L433.2,256.8 L433.7,255.6 L434.2,254.3 L434.7,253.1 L435.2,251.9 L435.7,250.8 L436.2,249.6 L436.7,248.5 L437.2,247.3 L437.7,246.2 L438.2,245.2 L438.7,244.1 L439.2,243.0 L439.7,242.0 L440.2,241.0 L440.7,240.0 L441.3,239.1 L441.8,238.1 L442.3,237.2 L442.8,236.3 L443.3,235.4 L443.8,234.6 L444.3,233.8 L444.8,233.0 L445.3,232.2 L445.8,231.5 L446.3,230.8 L446.8,230.1 L447.3,229.5 L447.8,228.9 L448.3,228.3 L448.8,227.7 L449.3,227.2 L449.8,226.7 L450.3,226.2 L450.8,225.8 L451.3,225.4 L451.8,225.0 L452.3,224.6 L452.8,224.3 L453.3,224.1 L453.8,223.8 L454.3,223.6 L454.8,223.4 L455.3,223.3 L455.8,223.1 L456.3,223.1 L456.8,223.0 L457.3,223.0 L457.8,223.0 L458.3,223.1 L458.9,223.2 L459.4,223.3 L459.9,223.4 L460.4,223.6 L460.9,223.8 L461.4,224.1 L461.9,224.3 L462.4,224.7 L462.9,225.0 L463.4,225.4 L463.9,225.8 L464.4,226.2 L464.9,226.7 L465.4,227.2 L465.9,227.7 L466.4,228.3 L466.9,228.9 L467.4,229.5 L467.9,230.1 L468.4,230.8 L468.9,231.5 L469.4,232.3 L469.9,233.0 L470.4,233.8 L470.9,234.6 L471.4,235.5 L471.9,236.3 L472.4,237.2 L472.9,238.1 L473.4,239.1 L473.9,240.1 L474.4,241.0 L474.9,242.0 L475.4,243.1 L476.0,244.1 L476.5,245.2 L477.0,246.3 L477.5,247.4 L478.0,248.5 L478.5,249.6 L479.0,250.8 L479.5,252.0 L480.0,253.2 L480.5,254.4 L481.0,255.6 L481.5,256.8 L482.0,258.1 L482.5,259.3 L483.0,260.6 L483.5,261.9 L484.0,263.1 L484.5,264.4 L485.0,265.7 L485.5,267.0 L486.0,268.3 L486.5,269.7 L487.0,271.0 L487.5,272.3 L488.0,273.6 L488.5,274.9 L489.0,276.3 L489.5,277.6 L490.0,278.9 L490.5,280.3 L491.0,281.6 L491.5,282.9 L492.0,284.2 L492.5,285.5 L493.1,286.8 L493.6,288.1 L494.1,289.4 L494.6,290.7 L495.1,292.0 L495.6,293.2 L496.1,294.5 L496.6,295.7 L497.1,296.9 L497.6,298.2 L498.1,299.4 L498.6,300.6 L499.1,301.7 L499.6,302.9 L500.1,304.0 L500.6,305.1 L501.1,306.2 L501.6,307.3 L502.1,308.4 L502.6,309.4 L503.1,310.5 L503.6,311.5 L504.1,312.5 L504.6,313.4 L505.1,314.4 L505.6,315.3 L506.1,316.2 L506.6,317.0 L507.1,317.9 L507.6,318.7 L508.1,319.5 L508.6,320.2 L509.1,320.9 L509.6,321.7 L510.1,322.3" fill="none" stroke="#e8825a" stroke-width="0.72" stroke-linejoin="round" stroke-linecap="round" />
<path d="M389.4,328.9 L390.0,328.7 L390.5,328.5 L391.0,328.2 L391.5,327.9 L392.0,327.6 L392.5,327.2 L393.0,326.9 L393.5,326.4 L394.0,326.0 L394.5,325.5 L395.0,325.0 L395.5,324.4 L396.0,323.8 L396.5,323.2 L397.0,322.6 L397.5,321.9 L398.0,321.2 L398.5,320.5 L399.0,319.8 L399.5,319.0 L400.0,318.2 L400.5,317.4 L401.0,316.5 L401.5,315.6 L402.0,314.7 L402.5,313.8 L403.0,312.8 L403.5,311.8 L404.0,310.8 L404.5,309.8 L405.0,308.8 L405.5,307.7 L406.0,306.6 L406.5,305.5 L407.1,304.4 L407.6,303.3 L408.1,302.1 L408.6,300.9 L409.1,299.7 L409.6,298.5 L410.1,297.3 L410.6,296.1 L411.1,294.9 L411.6,293.6 L412.1,292.3 L412.6,291.1 L413.1,289.8 L413.6,288.5 L414.1,287.2 L414.6,285.9 L415.1,284.6 L415.6,283.2 L416.1,281.9 L416.6,280.6 L417.1,279.3 L417.6,277.9 L418.1,276.6 L418.6,275.3 L419.1,273.9 L419.6,272.6 L420.1,271.3 L420.6,270.0 L421.1,268.6 L421.6,267.3 L422.1,266.0 L422.6,264.7 L423.1,263.4 L423.6,262.1 L424.2,260.8 L424.7,259.6 L425.2,258.3 L425.7,257.0 L426.2,255.8 L426.7,254.6 L427.2,253.4 L427.7,252.2 L428.2,251.0 L428.7,249.8 L429.2,248.7 L429.7,247.6 L430.2,246.4 L430.7,245.3 L431.2,244.3 L431.7,243.2 L432.2,242.2 L432.7,241.2 L433.2,240.2 L433.7,239.2 L434.2,238.3 L434.7,237.3 L435.2,236.4 L435.7,235.6 L436.2,234.7 L436.7,233.9 L437.2,233.1 L437.7,232.3 L438.2,231.6 L438.7,230.9 L439.2,230.2 L439.7,229.5 L440.2,228.9 L440.7,228.3 L441.3,227.8 L441.8,227.2 L442.3,226.7 L442.8,226.2 L443.3,225.8 L443.8,225.4 L444.3,225.0 L444.8,224.7 L445.3,224.3 L445.8,224.1 L446.3,223.8 L446.8,223.6 L447.3,223.4 L447.8,223.3 L448.3,223.2 L448.8,223.1 L449.3,223.0 L449.8,223.0 L450.3,223.0 L450.8,223.1 L451.3,223.2 L451.8,223.3 L452.3,223.4 L452.8,223.6 L453.3,223.8 L453.8,224.1 L454.3,224.4 L454.8,224.7 L455.3,225.1 L455.8,225.5 L456.3,225.9 L456.8,226.3 L457.3,226.8 L457.8,227.3 L458.3,227.9 L458.9,228.5 L459.4,229.1 L459.9,229.7 L460.4,230.4 L460.9,231.1 L461.4,231.8 L461.9,232.6 L462.4,233.4 L462.9,234.2 L463.4,235.0 L463.9,235.9 L464.4,236.8 L464.9,237.7 L465.4,238.7 L465.9,239.6 L466.4,240.6 L466.9,241.7 L467.4,242.7 L467.9,243.8 L468.4,244.8 L468.9,245.9 L469.4,247.1 L469.9,248.2 L470.4,249.4 L470.9,250.5 L471.4,251.7 L471.9,252.9 L472.4,254.2 L472.9,255.4 L473.4,256.7 L473.9,257.9 L474.4,259.2 L474.9,260.5 L475.4,261.8 L476.0,263.1 L476.5,264.4 L477.0,265.7 L477.5,267.1 L478.0,268.4 L478.5,269.7 L479.0,271.1 L479.5,272.4 L480.0,273.8 L480.5,275.1 L481.0,276.5 L481.5,277.8 L482.0,279.2 L482.5,280.5 L483.0,281.9 L483.5,283.2 L484.0,284.5 L484.5,285.9 L485.0,287.2 L485.5,288.5 L486.0,289.8 L486.5,291.1 L487.0,292.4 L487.5,293.7 L488.0,295.0 L488.5,296.2 L489.0,297.5 L489.5,298.7 L490.0,299.9 L490.5,301.1 L491.0,302.3 L491.5,303.5 L492.0,304.7 L492.5,305.8 L493.1,306.9 L493.6,308.0 L494.1,309.1 L494.6,310.1 L495.1,311.1 L495.6,312.2 L496.1,313.1 L496.6,314.1 L497.1,315.0 L497.6,316.0 L498.1,316.8 L498.6,317.7 L499.1,318.5 L499.6,319.3 L500.1,320.1 L500.6,320.9 L501.1,321.6 L501.6,322.3 L502.1,322.9 L502.6,323.6 L503.1,324.2 L503.6,324.7 L504.1,325.3 L504.6,325.8 L505.1,326.3 L505.6,326.7 L506.1,327.1 L506.6,327.5 L507.1,327.8 L507.6,328.1 L508.1,328.4 L508.6,328.7 L509.1,328.9 L509.6,329.0 L510.1,329.2" fill="none" stroke="#5a8468" stroke-width="0.92" stroke-linejoin="round" stroke-linecap="round" />
<path d="M531.5,329.4 L531.6,328.5 L531.8,327.7 L531.9,326.8 L532.0,326.0 L532.2,325.1 L532.3,324.3 L532.4,323.5 L532.6,322.7 L532.7,321.9 L532.8,321.1 L533.0,320.3 L533.1,319.5 L533.2,318.8 L533.4,318.0 L533.5,317.3 L533.7,316.6 L533.8,315.9 L533.9,315.2 L534.1,314.5 L534.2,313.7 L534.3,313.0 L534.5,312.2 L534.6,311.4 L534.7,310.6 L534.9,309.7 L535.0,309.0 L535.1,308.2 L535.3,307.4 L535.4,306.7 L535.5,306.1 L535.7,305.5 L535.8,304.9 L535.9,304.5 L536.1,304.1 L536.2,303.8 L536.3,303.6 L536.5,303.5 L536.6,303.6 L536.7,303.8 L536.9,304.2 L537.0,304.8 L537.1,305.4 L537.3,306.1 L537.4,306.8 L537.6,307.5 L537.7,308.2 L537.8,308.7 L538.0,309.2 L538.1,309.8 L538.2,310.4 L538.4,311.0 L538.5,311.6 L538.6,312.1 L538.8,312.6 L538.9,313.0 L539.0,313.3 L539.2,313.5 L539.4,313.4 L539.6,313.2 L539.7,313.0 L539.8,312.7 L540.0,312.4 L540.1,312.0 L540.2,311.7 L540.4,311.3 L540.5,311.1 L540.6,310.8 L540.8,310.6 L540.9,310.5 L541.2,310.5 L541.3,310.6 L541.5,310.6 L541.6,310.7 L541.7,310.7 L541.9,310.8 L542.0,310.9 L542.1,311.0 L542.3,311.1 L542.4,311.1 L542.5,311.2 L542.7,311.3 L542.8,311.3 L542.9,311.3 L543.2,311.3 L543.5,311.3 L543.7,311.3 L544.0,311.3 L544.3,311.3 L544.5,311.3 L544.8,311.3 L545.1,311.3 L545.4,311.3 L545.6,311.3 L545.9,311.3 L546.2,311.3 L546.4,311.3 L546.7,311.3 L547.0,311.3 L547.2,311.3 L547.5,311.3 L547.8,311.3 L548.0,311.3 L548.3,311.3 L548.6,311.3 L548.8,311.3 L549.1,311.3 L549.4,311.3 L549.7,311.3 L549.9,311.3 L550.2,311.3 L550.5,311.3 L550.7,311.3 L551.0,311.3 L551.3,311.3 L551.5,311.3 L551.8,311.3 L552.1,311.3 L552.3,311.3 L552.6,311.3 L552.9,311.3 L553.2,311.3 L553.4,311.3 L553.7,311.3 L554.0,311.3 L554.2,311.3 L554.5,311.3 L554.8,311.3 L555.0,311.3 L555.3,311.3 L555.6,311.3 L555.8,311.3 L556.1,311.3 L556.4,311.3 L556.6,311.3 L556.9,311.3 L557.2,311.3 L557.5,311.3 L557.7,311.3 L558.0,311.3 L558.3,311.3 L558.5,311.3 L558.8,311.3 L559.1,311.3 L559.3,311.3 L559.6,311.3 L559.9,311.3 L560.1,311.3 L560.4,311.3 L560.7,311.3 L561.0,311.3 L561.2,311.3 L561.5,311.3 L561.8,311.3 L562.0,311.3 L562.3,311.3 L562.6,311.3 L562.8,311.3 L563.1,311.3 L563.4,311.3 L563.6,311.3 L563.9,311.3 L564.2,311.3 L564.4,311.3 L564.7,311.3 L565.0,311.3 L565.3,311.3 L565.5,311.3 L565.8,311.3 L566.1,311.3 L566.3,311.3 L566.6,311.3 L566.9,311.3 L567.1,311.3 L567.4,311.3 L567.7,311.3 L567.9,311.3 L568.2,311.3 L568.5,311.3 L568.8,311.3 L569.0,311.3 L569.3,311.3 L569.6,311.3 L569.8,311.3 L570.1,311.3 L570.4,311.3 L570.6,311.3 L570.9,311.3 L571.2,311.3 L571.4,311.3 L571.7,311.3 L572.0,311.3 L572.2,311.3 L572.5,311.3 L572.8,311.3 L573.1,311.3 L573.3,311.3 L573.6,311.3 L573.9,311.3 L574.1,311.3 L574.4,311.3 L574.7,311.3 L574.9,311.3 L575.2,311.3 L575.5,311.3 L575.7,311.3 L576.0,311.3 L576.3,311.3 L576.6,311.3 L576.8,311.3 L577.1,311.3 L577.4,311.3 L577.6,311.3 L577.9,311.3 L578.2,311.3 L578.4,311.3 L578.7,311.3 L579.0,311.3 L579.2,311.3 L579.5,311.3 L579.8,311.3 L580.0,311.3 L580.3,311.3 L580.6,311.3 L580.9,311.3 L581.1,311.3 L581.4,311.3 L581.7,311.3 L581.9,311.3 L582.2,311.3 L582.5,311.3 L582.7,311.3 L583.0,311.3 L583.3,311.3 L583.5,311.3 L583.8,311.3 L584.1,311.3 L584.4,311.4 L584.6,311.4 L584.9,311.4 L585.2,311.4 L585.4,311.5 L585.7,311.5 L586.0,311.5 L586.2,311.5 L586.5,311.6 L586.6,311.6 L586.8,311.6 L586.9,311.6 L587.0,311.6 L587.2,311.7 L587.3,311.7 L587.4,311.7 L587.7,311.7 L588.0,311.7 L588.3,311.8 L588.5,311.8 L588.8,311.8 L588.9,311.8 L589.2,311.9 L589.5,311.9 L589.7,311.9 L590.0,312.0 L590.1,312.0 L590.3,312.0 L590.4,312.0 L590.5,312.0 L590.7,312.0 L590.8,312.1 L590.9,312.1 L591.1,312.1 L591.2,312.1 L591.3,312.1 L591.5,312.1 L591.6,312.2 L591.7,312.2 L591.9,312.2 L592.2,312.2 L592.4,312.2 L592.7,312.3 L593.0,312.3 L593.2,312.3 L593.5,312.3 L593.8,312.4 L594.0,312.4 L594.3,312.4 L594.6,312.4 L594.8,312.4 L595.0,312.3 L595.1,312.3 L595.2,312.3 L595.4,312.3 L595.5,312.2 L595.6,312.2 L595.8,312.1 L595.9,312.1 L596.1,312.0 L596.2,311.9 L596.3,311.9 L596.5,311.8 L596.6,311.7 L596.7,311.7 L596.9,311.6 L597.0,311.5 L597.1,311.4 L597.3,311.4 L597.4,311.3 L597.5,311.2 L597.7,311.1 L597.8,311.0 L597.9,310.9 L598.1,310.8 L598.2,310.6 L598.3,310.5 L598.5,310.4 L598.6,310.2 L598.7,310.1 L598.9,309.9 L599.0,309.8 L599.1,309.7 L599.3,309.6 L599.4,309.5 L599.5,309.4 L599.7,309.3 L599.8,309.2 L600.0,309.2 L600.1,309.2 L600.2,309.2 L600.4,309.3 L600.5,309.4 L600.6,309.5 L600.8,309.7 L600.9,309.9 L601.0,310.1 L601.2,310.3 L601.3,310.6 L601.4,310.7 L601.6,310.9 L601.7,311.0 L601.8,311.2 L602.0,311.3 L602.1,311.5 L602.2,311.6 L602.4,311.7 L602.5,311.8 L602.8,311.8 L602.9,311.7 L603.0,311.7 L603.2,311.7 L603.3,311.6 L603.4,311.6 L603.6,311.6 L603.7,311.5 L603.9,311.5 L604.0,311.4 L604.1,311.4 L604.3,311.4 L604.4,311.3 L604.6,311.3 L604.9,311.3 L605.2,311.3 L605.5,311.3 L605.7,311.3 L606.0,311.3 L606.3,311.3 L606.5,311.3 L606.8,311.3 L607.1,311.3 L607.3,311.3 L607.6,311.3 L607.9,311.3 L608.2,311.3 L608.4,311.3 L608.7,311.3 L609.0,311.3 L609.2,311.3 L609.5,311.3 L609.8,311.3 L610.0,311.3 L610.3,311.3 L610.6,311.3 L610.8,311.3 L611.1,311.3 L611.4,311.3 L611.7,311.3 L611.9,311.3 L612.2,311.3 L612.5,311.3 L612.7,311.3 L613.0,311.3 L613.3,311.3 L613.5,311.3 L613.8,311.3 L614.1,311.3 L614.3,311.3 L614.6,311.3 L614.9,311.3 L615.1,311.3 L615.4,311.3 L615.7,311.3 L616.0,311.3 L616.2,311.3 L616.5,311.3 L616.8,311.3 L617.0,311.3 L617.3,311.3 L617.6,311.3 L617.8,311.3 L618.1,311.3 L618.4,311.3 L618.6,311.3 L618.9,311.3 L619.2,311.3 L619.5,311.3 L619.7,311.3 L620.0,311.3 L620.3,311.3 L620.5,311.3 L620.8,311.3 L621.1,311.3 L621.3,311.3 L621.6,311.3 L621.9,311.3 L622.1,311.3 L622.4,311.3 L622.7,311.3 L622.9,311.3 L623.2,311.3 L623.5,311.3 L623.8,311.3 L624.0,311.3 L624.3,311.3 L624.6,311.3 L624.8,311.3 L625.1,311.3 L625.4,311.3 L625.6,311.3 L625.9,311.3 L626.2,311.3 L626.4,311.3 L626.7,311.3 L627.0,311.3 L627.3,311.3 L627.5,311.3 L627.8,311.3 L628.1,311.3 L628.3,311.3 L628.6,311.3 L628.9,311.3 L629.1,311.3 L629.4,311.3 L629.7,311.3 L629.9,311.3 L630.2,311.3 L630.5,311.3 L630.7,311.3 L631.0,311.3 L631.3,311.3 L631.6,311.3 L631.8,311.3 L632.1,311.3 L632.4,311.3 L632.6,311.3 L632.9,311.3 L633.2,311.3 L633.4,311.3 L633.7,311.3 L634.0,311.3 L634.2,311.3 L634.5,311.3 L634.8,311.3 L635.1,311.3 L635.3,311.3 L635.6,311.3 L635.9,311.3 L636.1,311.3 L636.4,311.3 L636.7,311.3 L636.9,311.3 L637.2,311.3 L637.5,311.3 L637.7,311.3 L638.0,311.3 L638.3,311.3 L638.5,311.3 L638.8,311.3 L639.1,311.3 L639.4,311.3 L639.6,311.3 L639.9,311.3 L640.2,311.3 L640.4,311.3 L640.7,311.3 L641.0,311.3 L641.2,311.3 L641.5,311.3 L641.8,311.3 L642.0,311.3 L642.3,311.3 L642.6,311.3 L642.9,311.3 L643.1,311.3 L643.4,311.3 L643.7,311.3 L643.9,311.3 L644.2,311.3 L644.5,311.3 L644.7,311.3 L645.0,311.3 L645.3,311.3 L645.5,311.3 L645.8,311.3 L646.1,311.3 L646.3,311.3 L646.6,311.3 L646.9,311.3 L647.2,311.3 L647.4,311.3 L647.7,311.3 L648.0,311.4 L648.2,311.4 L648.5,311.4 L648.8,311.4 L649.0,311.4 L649.3,311.4 L649.6,311.5 L649.8,311.5 L650.1,311.5 L650.4,311.5 L650.7,311.5 L650.9,311.6 L651.2,311.6 L651.5,311.6 L651.7,311.6 L652.0,311.6 L652.3,311.7 L652.4,311.7" fill="none" stroke="#4f96cf" stroke-width="0.95" stroke-linejoin="round" stroke-linecap="round" />
<text transform="translate(450.10,219.30) scale(0.868,1)" text-anchor="middle" font-size="10" font-weight="bold" fill="#161616" stroke="#161616" stroke-width="0.25">prediction and error</text>
<text transform="translate(592.35,219.30) scale(0.868,1)" text-anchor="middle" font-size="10" font-weight="bold" fill="#161616" stroke="#161616" stroke-width="0.25">action</text>
<text transform="translate(363.95,277.10) rotate(-90) scale(0.848,0.9)" text-anchor="middle" font-size="10.3" font-weight="normal" fill="#161616" stroke="#161616" stroke-width="0.25">target size / grasping</text>
<text transform="translate(526.65,202.40) scale(0.865,1)" text-anchor="middle" font-size="14" font-weight="bold" fill="#000" stroke="#000" stroke-width="0.2">RH incong</text>
</svg>
</body></html>
